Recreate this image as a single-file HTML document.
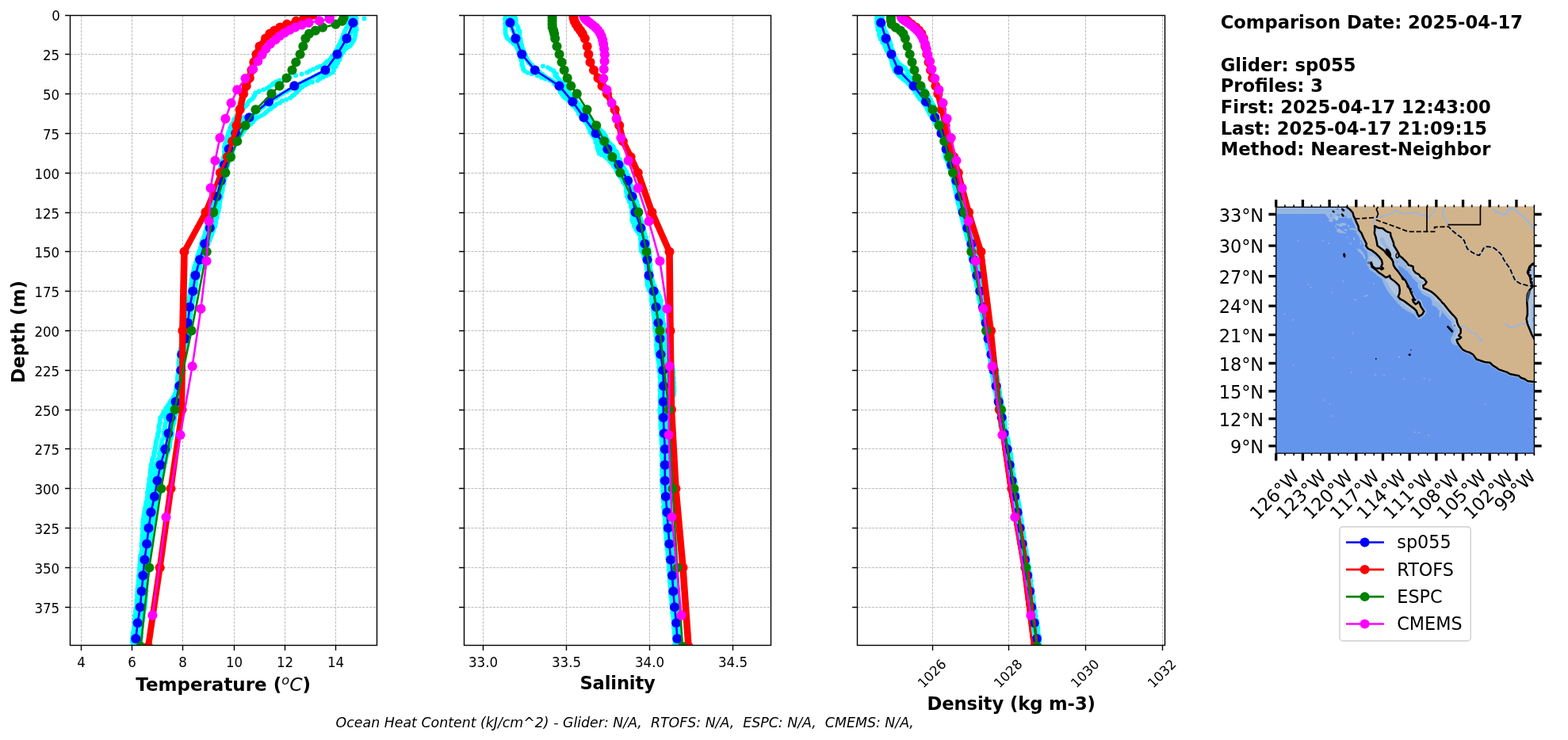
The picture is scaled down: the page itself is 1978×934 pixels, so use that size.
<!DOCTYPE html>
<html lang="en"><head><meta charset="utf-8"><title>Glider / model profile comparison</title>
<style>html,body{margin:0;padding:0;background:#fff;}body{width:1978px;height:934px;overflow:hidden;}svg{display:block;}</style></head>
<body>
<svg width="1978" height="934" viewBox="0 0 1978 934" role="img" aria-label="Glider sp055 versus ocean model profile comparison" font-family="'DejaVu Sans', 'Liberation Sans', sans-serif">
<rect x="0" y="0" width="1978" height="934" fill="#fff"/>
<defs>
<clipPath id="cp1"><rect x="88.5" y="19.5" width="387" height="795"/></clipPath>
<clipPath id="cp2"><rect x="585.5" y="19.5" width="387" height="795"/></clipPath>
<clipPath id="cp3"><rect x="1081.5" y="19.5" width="388" height="795"/></clipPath>
<clipPath id="cpm"><rect x="1609.5" y="260.3" width="326" height="311.7"/></clipPath>
</defs>
<g id="panel1">
<path d="M102.5 814.5V19.5M166.5 814.5V19.5M230.5 814.5V19.5M295.5 814.5V19.5M359.5 814.5V19.5M423.5 814.5V19.5M88.5 68.5H475.5M88.5 118.5H475.5M88.5 168.5H475.5M88.5 218.5H475.5M88.5 268.5H475.5M88.5 317.5H475.5M88.5 367.5H475.5M88.5 417.5H475.5M88.5 467.5H475.5M88.5 517.5H475.5M88.5 566.5H475.5M88.5 616.5H475.5M88.5 666.5H475.5M88.5 716.5H475.5M88.5 766.5H475.5" stroke="#bcbcbc" stroke-width="1" stroke-dasharray="3.15 1.4" fill="none"/>
<g clip-path="url(#cp1)">
<path d="M448.8 21.5h0M449.6 23.5h0M449.3 25.6h0M449.1 27.5h0M449.6 29.7h0M448.9 31.4h0M448.8 33.7h0M449.3 35.2h0M449.6 37.8h0M449.0 39.6h0M448.2 41.2h0M448.4 43.2h0M447.8 45.3h0M447.4 47.5h0M446.9 49.7h0M445.8 51.6h0M444.5 53.6h0M443.3 55.4h0M441.8 57.8h0M439.3 59.6h0M436.4 61.3h0M434.4 63.2h0M433.1 65.4h0M431.3 67.4h0M430.4 69.7h0M428.6 71.3h0M428.9 73.5h0M428.2 75.4h0M426.3 77.6h0M426.1 79.4h0M424.3 81.4h0M424.0 83.7h0M421.7 85.3h0M420.6 87.2h0M420.7 89.3h0M419.8 91.5h0M415.6 93.6h0M411.6 95.6h0M407.5 97.5h0M403.6 99.4h0M400.5 101.7h0M394.0 103.7h0M388.8 105.4h0M385.1 107.6h0M381.4 109.8h0M378.6 111.4h0M377.3 113.4h0M375.2 115.2h0M373.0 117.5h0M371.2 119.6h0M368.6 121.5h0M366.1 123.5h0M361.2 125.7h0M356.1 127.3h0M353.2 129.7h0M349.0 131.3h0M346.5 133.8h0M342.9 135.8h0M341.1 137.6h0M338.4 139.3h0M335.7 141.8h0M333.7 143.6h0M329.9 145.7h0M326.3 147.4h0M323.3 149.6h0M320.8 151.3h0M319.2 153.7h0M317.2 155.4h0M315.6 157.3h0M312.6 159.4h0M311.2 161.2h0M309.0 163.4h0M307.6 165.3h0M305.7 167.7h0M304.9 169.6h0M303.1 171.6h0M301.0 173.2h0M299.7 175.7h0M299.5 177.8h0M297.7 179.6h0M297.2 181.6h0M296.1 183.8h0M294.8 185.5h0M294.5 187.7h0M293.5 189.6h0M293.2 191.7h0M292.3 193.6h0M292.5 195.7h0M291.3 197.7h0M291.1 199.5h0M289.9 201.4h0M288.8 203.6h0M287.1 205.6h0M287.4 207.7h0M286.7 209.4h0M286.3 211.5h0M285.6 213.7h0M284.8 215.7h0M284.4 217.6h0M284.5 219.3h0M284.4 221.5h0M284.0 223.8h0M283.2 225.2h0M282.9 227.6h0M282.3 229.3h0M282.6 231.6h0M281.6 233.7h0M281.0 235.6h0M280.4 237.5h0M280.7 239.7h0M280.3 241.4h0M279.6 243.4h0M278.7 245.5h0M279.1 247.7h0M278.6 249.8h0M277.7 251.3h0M277.5 253.4h0M276.9 255.4h0M277.0 257.5h0M276.3 259.7h0M276.7 261.5h0M275.3 263.2h0M275.8 265.2h0M275.3 267.5h0M274.4 269.7h0M273.6 271.3h0M273.6 273.2h0M273.6 275.3h0M272.3 277.2h0M272.4 279.5h0M271.9 281.6h0M271.7 283.8h0M271.1 285.3h0M270.3 287.3h0M269.1 289.5h0M269.1 291.3h0M267.8 293.4h0M267.4 295.5h0M266.5 297.7h0M265.5 299.7h0M265.3 301.3h0M264.5 303.6h0M262.8 305.5h0M262.5 307.7h0M261.5 309.5h0M261.3 311.7h0M260.6 313.5h0M259.5 315.3h0M258.8 317.7h0M257.9 319.6h0M256.7 321.7h0M256.7 323.8h0M255.5 325.7h0M254.5 327.7h0M254.5 329.4h0M253.1 331.5h0M253.0 333.7h0M252.3 335.2h0M252.1 337.2h0M251.5 339.3h0M250.5 341.7h0M249.7 343.3h0M249.5 345.6h0M249.3 347.6h0M249.1 349.5h0M248.8 351.3h0M247.6 353.5h0M247.4 355.6h0M247.5 357.5h0M247.4 359.5h0M246.4 361.4h0M246.7 363.7h0M245.7 365.7h0M246.2 367.5h0M245.3 369.3h0M244.9 371.5h0M244.5 373.2h0M244.5 375.5h0M243.5 377.7h0M243.2 379.5h0M242.9 381.2h0M242.4 383.4h0M242.4 385.8h0M241.2 387.5h0M240.8 389.5h0M241.3 391.7h0M240.7 393.4h0M240.1 395.6h0M240.7 397.3h0M240.3 399.2h0M239.4 401.3h0M239.7 403.4h0M239.0 405.6h0M238.5 407.6h0M238.2 409.5h0M238.0 411.3h0M238.0 413.5h0M237.6 415.4h0M237.4 417.3h0M236.8 419.6h0M237.0 421.5h0M236.9 423.6h0M236.6 425.3h0M236.2 427.7h0M235.9 429.4h0M234.8 431.8h0M234.3 433.8h0M234.6 435.3h0M233.4 437.6h0M233.0 439.3h0M233.2 441.5h0M232.7 443.3h0M231.8 445.6h0M230.9 447.3h0M231.6 449.7h0M231.8 451.3h0M231.2 453.7h0M231.1 455.6h0M230.7 457.2h0M230.5 459.2h0M230.9 461.5h0M230.9 463.3h0M230.3 465.3h0M231.0 467.8h0M230.9 469.3h0M229.7 471.8h0M230.0 473.7h0M229.6 475.5h0M229.7 477.5h0M229.6 479.2h0M229.5 481.7h0M228.7 483.5h0M229.2 485.4h0M228.3 487.3h0M228.2 489.2h0M228.2 491.7h0M227.5 493.7h0M227.0 495.4h0M226.5 497.5h0M226.7 499.7h0M225.6 501.7h0M225.9 503.7h0M225.7 505.4h0M225.5 507.7h0M224.8 509.7h0M224.5 511.4h0M224.0 513.2h0M223.2 515.5h0M222.4 517.4h0M222.5 519.6h0M221.4 521.8h0M221.3 523.4h0M220.6 525.5h0M220.0 527.4h0M220.2 529.6h0M219.5 531.7h0M219.5 533.2h0M218.8 535.6h0M218.1 537.4h0M217.6 539.3h0M217.6 541.3h0M217.2 543.7h0M217.2 545.5h0M217.3 547.5h0M216.9 549.6h0M216.3 551.2h0M215.7 553.7h0M214.6 555.8h0M214.4 557.5h0M214.0 559.5h0M214.0 561.2h0M214.0 563.5h0M213.1 565.6h0M212.5 567.4h0M212.2 569.5h0M211.2 571.6h0M210.7 573.2h0M210.0 575.2h0M209.3 577.7h0M209.0 579.7h0M208.8 581.2h0M208.5 583.8h0M206.9 585.7h0M206.8 587.5h0M207.0 589.3h0M206.1 591.8h0M205.9 593.5h0M205.8 595.7h0M205.0 597.3h0M204.6 599.5h0M203.7 601.2h0M203.7 603.3h0M203.2 605.6h0M202.8 607.4h0M202.6 609.5h0M202.5 611.5h0M202.3 613.8h0M201.7 615.3h0M200.6 617.7h0M201.0 619.6h0M200.2 621.4h0M200.2 623.5h0M199.7 625.6h0M199.5 627.3h0M198.5 629.8h0M198.8 631.7h0M197.4 633.2h0M197.2 635.5h0M197.1 637.3h0M196.6 639.2h0M195.6 641.6h0M195.7 643.6h0M195.0 645.5h0M194.5 647.4h0M194.8 649.7h0M193.7 651.3h0M194.2 653.6h0M193.9 655.3h0M193.2 657.4h0M193.4 659.4h0M192.9 661.8h0M192.3 663.5h0M192.4 665.8h0M191.8 667.4h0M191.2 669.7h0M191.0 671.2h0M191.3 673.5h0M191.2 675.4h0M191.1 677.2h0M190.2 679.6h0M189.9 681.4h0M190.4 683.6h0M189.7 685.3h0M189.5 687.6h0M189.3 689.3h0M189.4 691.5h0M189.4 693.8h0M189.1 695.5h0M188.8 697.4h0M188.0 699.4h0M188.4 701.7h0M187.4 703.4h0M187.2 705.4h0M187.1 707.4h0M186.7 709.5h0M187.2 711.5h0M187.0 713.5h0M186.1 715.7h0M186.7 717.4h0M185.6 719.5h0M186.0 721.5h0M186.3 723.6h0M185.9 725.2h0M185.5 727.7h0M184.8 729.2h0M185.4 731.7h0M184.5 733.6h0M184.4 735.6h0M184.8 737.3h0M184.2 739.7h0M184.4 741.7h0M184.1 743.4h0M184.6 745.6h0M183.9 747.5h0M184.0 749.6h0M184.0 751.4h0M183.7 753.6h0M183.6 755.7h0M183.4 757.7h0M183.4 759.6h0M182.7 761.6h0M182.9 763.5h0M182.3 765.3h0M182.4 767.8h0M181.7 769.3h0M181.2 771.5h0M181.0 773.8h0M180.5 775.4h0M180.2 777.6h0M180.7 779.3h0M179.6 781.5h0M179.9 783.7h0M179.0 785.3h0M178.9 787.3h0M178.7 789.6h0M178.9 791.3h0M178.2 793.4h0M178.0 795.7h0M177.9 797.5h0M178.3 799.5h0M177.4 801.7h0M177.9 803.4h0M177.3 805.8h0M177.2 807.3h0M176.7 809.8h0M177.6 811.4h0M177.3 813.5h0M177.0 815.8h0M177.5 817.3h0M439.5 21.5h0M439.9 23.7h0M440.2 25.6h0M439.6 27.3h0M439.2 29.4h0M439.0 31.5h0M438.0 33.8h0M436.7 35.5h0M435.8 37.7h0M434.8 39.7h0M434.8 41.7h0M433.1 43.4h0M432.9 45.3h0M431.7 47.5h0M431.3 49.6h0M430.3 51.4h0M429.3 53.5h0M428.6 55.3h0M427.6 57.3h0M426.4 59.5h0M425.0 61.7h0M424.3 63.4h0M423.1 65.4h0M422.6 67.6h0M420.9 69.6h0M418.7 71.4h0M417.3 73.8h0M415.8 75.6h0M412.7 77.4h0M411.1 79.3h0M408.7 81.5h0M403.8 83.8h0M399.8 85.3h0M395.1 87.4h0M390.8 89.5h0M387.3 91.4h0M380.6 93.6h0M373.0 95.3h0M365.9 97.4h0M358.9 99.5h0M352.5 101.4h0M348.5 103.3h0M344.8 105.3h0M342.8 107.6h0M339.7 109.4h0M336.9 111.6h0M332.2 113.3h0M326.8 115.3h0M322.3 117.2h0M321.9 119.5h0M320.5 121.6h0M319.4 123.7h0M317.3 125.4h0M314.8 127.2h0M312.7 129.6h0M312.0 131.7h0M310.4 133.6h0M308.1 135.4h0M306.4 137.6h0M304.1 139.4h0M302.8 141.7h0M301.6 143.6h0M299.2 145.7h0M298.4 147.5h0M296.2 149.5h0M294.9 151.6h0M294.8 153.5h0M293.5 155.7h0M291.9 157.8h0M291.6 159.3h0M290.2 161.3h0M290.0 163.6h0M289.0 165.8h0M288.4 167.5h0M287.5 169.8h0M286.9 171.7h0M286.8 173.5h0M286.2 175.4h0M286.0 177.8h0M285.3 179.6h0M283.9 181.7h0M283.5 183.7h0M282.9 185.5h0M283.6 187.3h0M283.4 189.2h0M282.8 191.3h0M283.6 193.8h0M282.9 195.4h0M282.5 197.6h0M281.5 199.6h0M281.2 201.2h0M279.8 203.5h0M279.2 205.4h0M279.1 207.3h0M278.5 209.4h0M278.2 211.4h0M277.8 213.2h0M277.5 215.3h0M277.4 217.6h0M276.4 219.4h0M276.2 221.6h0M275.9 223.7h0M275.2 225.8h0M275.2 227.7h0M274.2 229.5h0M273.9 231.7h0M273.3 233.5h0M272.7 235.7h0M272.1 237.2h0M272.0 239.7h0M271.5 241.6h0M271.0 243.4h0M270.3 245.2h0M269.3 247.5h0M269.2 249.4h0M268.3 251.6h0M268.3 253.3h0M267.6 255.4h0M267.1 257.2h0M267.4 259.8h0M266.7 261.7h0M265.9 263.7h0M265.2 265.6h0M265.2 267.7h0M264.2 269.7h0M263.8 271.5h0M264.3 273.2h0M263.1 275.4h0M262.8 277.2h0M263.0 279.7h0M262.0 281.4h0M261.8 283.2h0M260.8 285.7h0M260.7 287.5h0M260.7 289.8h0M259.6 291.3h0M258.7 293.8h0M258.7 295.3h0M258.0 297.4h0M257.0 299.3h0M256.8 301.8h0M255.4 303.6h0M254.7 305.7h0M253.9 307.3h0M254.0 309.4h0M253.6 311.7h0M252.7 313.3h0M252.1 315.8h0M251.2 317.2h0M250.4 319.4h0M250.3 321.3h0M249.1 323.3h0M249.0 325.7h0M248.1 327.6h0M248.1 329.6h0M246.9 331.4h0M247.1 333.6h0M245.8 335.6h0M245.1 337.8h0M244.9 339.5h0M244.5 341.2h0M244.0 343.4h0M243.1 345.7h0M242.4 347.4h0M242.8 349.3h0M242.0 351.5h0M241.6 353.7h0M242.2 355.2h0M241.3 357.7h0M240.9 359.8h0M240.8 361.3h0M240.6 363.6h0M240.0 365.6h0M240.2 367.5h0M239.5 369.7h0M239.3 371.5h0M239.2 373.3h0M238.7 375.3h0M238.1 377.3h0M237.5 379.7h0M237.5 381.7h0M236.5 383.5h0M236.1 385.5h0M236.0 387.2h0M235.9 389.6h0M235.6 391.7h0M235.0 393.3h0M234.6 395.5h0M234.8 397.5h0M234.4 399.7h0M234.0 401.7h0M234.3 403.5h0M234.3 405.3h0M233.4 407.4h0M233.0 409.4h0M233.4 411.5h0M232.7 413.6h0M232.2 415.7h0M232.0 417.4h0M231.7 419.6h0M232.1 421.7h0M231.0 423.4h0M231.0 425.3h0M231.4 427.2h0M230.4 429.7h0M230.5 431.3h0M229.4 433.6h0M228.5 435.3h0M229.0 437.3h0M228.0 439.4h0M227.6 441.2h0M226.7 443.8h0M227.0 445.6h0M226.0 447.4h0M226.2 449.3h0M226.0 451.8h0M225.8 453.4h0M226.4 455.6h0M225.3 457.4h0M225.9 459.2h0M225.4 461.6h0M225.9 463.6h0M225.8 465.5h0M225.2 467.7h0M224.9 469.7h0M224.6 471.4h0M224.3 473.5h0M224.1 475.3h0M224.0 477.5h0M223.9 479.5h0M224.4 481.6h0M224.1 483.3h0M223.3 485.2h0M223.4 487.4h0M222.5 489.2h0M221.9 491.4h0M221.7 493.8h0M221.6 495.4h0M220.6 497.3h0M220.0 499.4h0M218.7 501.6h0M217.6 503.2h0M215.8 505.4h0M214.3 507.7h0M213.2 509.7h0M212.2 511.2h0M210.8 513.3h0M209.2 515.3h0M208.6 517.2h0M207.1 519.5h0M206.1 521.3h0M205.1 523.4h0M203.9 525.6h0M202.2 527.3h0M202.1 529.6h0M201.9 531.4h0M202.1 533.3h0M201.1 535.4h0M200.7 537.2h0M200.2 539.6h0M200.4 541.7h0M200.6 543.4h0M199.9 545.8h0M199.0 547.6h0M199.1 549.8h0M198.9 551.3h0M198.2 553.3h0M197.6 555.4h0M196.8 557.4h0M196.8 559.5h0M196.4 561.3h0M196.2 563.5h0M195.7 565.6h0M195.4 567.3h0M195.0 569.5h0M194.3 571.5h0M194.4 573.5h0M194.0 575.2h0M193.1 577.4h0M192.3 579.4h0M191.8 581.5h0M191.9 583.5h0M191.1 585.4h0M190.4 587.4h0M191.1 589.5h0M190.1 591.6h0M189.8 593.5h0M190.0 595.8h0M189.4 597.5h0M189.8 599.7h0M189.2 601.6h0M188.7 603.4h0M188.3 605.7h0M188.7 607.4h0M188.5 609.2h0M187.4 611.5h0M187.4 613.4h0M187.9 615.3h0M186.8 617.3h0M187.0 619.3h0M186.0 621.5h0M186.1 623.3h0M186.0 625.6h0M185.7 627.6h0M185.4 629.7h0M185.4 631.4h0M184.4 633.7h0M184.0 635.6h0M184.0 637.6h0M183.9 639.7h0M182.7 641.6h0M182.7 643.5h0M182.2 645.4h0M182.3 647.5h0M181.5 649.3h0M181.4 651.3h0M181.4 653.3h0M180.7 655.2h0M180.5 657.6h0M180.3 659.5h0M180.8 661.5h0M180.0 663.7h0M180.5 665.2h0M179.7 667.5h0M180.2 669.4h0M180.0 671.4h0M179.9 673.4h0M179.4 675.7h0M179.8 677.7h0M179.4 679.5h0M179.5 681.6h0M179.5 683.7h0M178.7 685.4h0M179.1 687.3h0M178.5 689.2h0M178.8 691.8h0M179.0 693.3h0M178.6 695.5h0M178.3 697.4h0M178.4 699.8h0M177.2 701.6h0M177.0 703.2h0M176.9 705.6h0M177.5 707.3h0M176.6 709.2h0M176.6 711.5h0M176.3 713.4h0M176.6 715.7h0M175.8 717.4h0M176.0 719.7h0M176.2 721.4h0M175.7 723.5h0M175.7 725.3h0M174.8 727.3h0M175.5 729.4h0M174.9 731.3h0M174.6 733.2h0M174.7 735.3h0M174.6 737.4h0M174.0 739.5h0M174.0 741.4h0M173.5 743.2h0M174.3 745.4h0M173.3 747.3h0M173.5 749.8h0M173.1 751.7h0M173.2 753.4h0M173.4 755.4h0M172.4 757.5h0M172.9 759.6h0M172.3 761.8h0M172.8 763.8h0M172.2 765.7h0M172.2 767.3h0M171.2 769.3h0M171.0 771.2h0M171.0 773.7h0M170.6 775.5h0M170.0 777.3h0M170.8 779.2h0M170.0 781.7h0M170.0 783.6h0M169.3 785.7h0M169.5 787.7h0M169.5 789.3h0M169.2 791.4h0M168.8 793.4h0M168.8 795.2h0M168.2 797.3h0M167.8 799.4h0M167.8 801.7h0M167.3 803.6h0M167.1 805.4h0M167.6 807.4h0M166.8 809.4h0M167.5 811.3h0M167.5 813.5h0M167.5 815.3h0M166.9 817.3h0M444.8 21.5h0M444.8 23.5h0M445.5 25.4h0M446.0 27.8h0M445.7 29.7h0M445.7 31.7h0M445.2 33.8h0M445.1 35.8h0M444.1 37.4h0M443.8 39.3h0M442.2 41.6h0M441.7 43.4h0M440.0 45.4h0M440.1 47.3h0M438.7 49.4h0M437.5 51.3h0M436.3 53.7h0M435.4 55.6h0M433.8 57.5h0M432.2 59.7h0M431.7 61.5h0M430.5 63.5h0M429.0 65.3h0M428.0 67.5h0M426.6 69.2h0M425.2 71.5h0M423.7 73.6h0M422.6 75.3h0M420.6 77.8h0M419.4 79.4h0M417.9 81.8h0M416.0 83.7h0M414.1 85.8h0M413.0 87.3h0M410.6 89.6h0M406.7 91.7h0M402.6 93.5h0M398.9 95.2h0M394.8 97.6h0M390.1 99.7h0M386.4 101.5h0M382.9 103.3h0M378.3 105.6h0M374.1 107.5h0M371.3 109.5h0M367.5 111.7h0M364.9 113.7h0M361.2 115.7h0M358.2 117.3h0M354.5 119.3h0M350.9 121.4h0M348.5 123.7h0M344.4 125.3h0M341.4 127.7h0M338.8 129.7h0M335.7 131.8h0M333.4 133.6h0M331.6 135.6h0M328.4 137.6h0M326.2 139.2h0M323.6 141.4h0M321.4 143.4h0M318.9 145.6h0M316.0 147.3h0M314.6 149.5h0M312.2 151.3h0M311.4 153.6h0M309.0 155.3h0M308.0 157.6h0M306.0 159.4h0M303.8 161.4h0M302.0 163.6h0M300.5 165.7h0M298.8 167.5h0M297.8 169.8h0M296.7 171.6h0M295.8 173.5h0M295.0 175.7h0M294.1 177.7h0M293.7 179.5h0M293.1 181.4h0M292.0 183.6h0M290.9 185.2h0M290.0 187.4h0M289.3 189.8h0M288.6 191.6h0M288.4 193.3h0M287.5 195.3h0M287.4 197.4h0M286.3 199.4h0M286.1 201.7h0M285.3 203.5h0M284.1 205.7h0M283.5 207.4h0M283.4 209.6h0M283.3 211.4h0M283.1 213.8h0M281.8 215.6h0M281.8 217.4h0M281.4 219.4h0M281.2 221.6h0M281.2 223.8h0M280.8 225.4h0M280.2 227.6h0M279.6 229.8h0M278.3 231.5h0M278.2 233.6h0M277.5 235.8h0M277.0 237.4h0M276.4 239.4h0M276.5 241.3h0M275.4 243.6h0M275.4 245.6h0M274.5 247.7h0M274.5 249.7h0M273.4 251.5h0M272.8 253.7h0M273.4 255.7h0M271.9 257.4h0M272.0 259.5h0M271.1 261.7h0M270.8 263.5h0M270.2 265.5h0M269.7 267.3h0M269.7 269.4h0M269.6 271.3h0M268.8 273.2h0M268.1 275.5h0M268.1 277.5h0M268.0 279.3h0M267.6 281.3h0M267.3 283.5h0M266.2 285.6h0M266.3 287.8h0M265.2 289.2h0M264.3 291.7h0M264.3 293.6h0M263.0 295.5h0M262.2 297.3h0M261.8 299.8h0M261.6 301.7h0M260.3 303.4h0M259.6 305.4h0M259.0 307.8h0M258.6 309.5h0M258.4 311.7h0M258.1 313.5h0M257.0 315.7h0M256.2 317.4h0M256.0 319.4h0M255.0 321.5h0M254.5 323.4h0M253.8 325.5h0M252.8 327.7h0M252.2 329.5h0M252.2 331.4h0M251.3 333.3h0M250.9 335.4h0M250.4 337.3h0M250.2 339.5h0M248.8 341.4h0M249.3 343.2h0M248.3 345.8h0M247.5 347.6h0M247.2 349.4h0M247.1 351.6h0M246.5 353.5h0M246.4 355.7h0M245.6 357.3h0M245.5 359.4h0M245.8 361.5h0M245.5 363.4h0M244.6 365.6h0M244.1 367.8h0M244.5 369.4h0M243.5 371.7h0M243.6 373.6h0M242.4 375.7h0M242.0 377.6h0M242.1 379.8h0M241.8 381.2h0M241.7 383.7h0M240.9 385.2h0M240.7 387.5h0M240.4 389.8h0M240.4 391.2h0M240.0 393.5h0M239.8 395.4h0M239.2 397.5h0M238.6 399.4h0M239.0 401.2h0M238.1 403.7h0M238.5 405.5h0M237.6 407.3h0M237.5 409.8h0M237.5 411.8h0M236.8 413.4h0M236.9 415.7h0M236.1 417.7h0M236.2 419.2h0M235.9 421.4h0M235.8 423.8h0M235.3 425.6h0M234.9 427.7h0M234.2 429.6h0M233.8 431.6h0M233.3 433.4h0M232.8 435.4h0M232.8 437.5h0M232.2 439.5h0M232.2 441.4h0M231.5 443.5h0M231.4 445.4h0M230.7 447.3h0M230.1 449.6h0M230.4 451.4h0M229.7 453.7h0M230.0 455.6h0M229.9 457.6h0M230.0 459.8h0M230.2 461.5h0M229.7 463.3h0M229.9 465.3h0M229.3 467.7h0M228.8 469.6h0M229.2 471.5h0M228.7 473.3h0M229.2 475.7h0M228.8 477.3h0M228.6 479.3h0M227.8 481.5h0M228.0 483.3h0M228.0 485.5h0M227.9 487.8h0M227.2 489.4h0M227.0 491.6h0M225.8 493.7h0M225.8 495.4h0M224.8 497.2h0M224.7 499.4h0M223.9 501.4h0M223.3 503.5h0M223.0 505.4h0M222.5 507.5h0M222.5 509.3h0M221.9 511.7h0M221.0 513.5h0M220.5 515.5h0M219.8 517.8h0M219.4 519.4h0M218.0 521.8h0M217.7 523.7h0M216.9 525.5h0M216.5 527.6h0M216.9 529.5h0M216.1 531.4h0M215.5 533.8h0M215.0 535.8h0M215.3 537.2h0M215.3 539.3h0M214.6 541.3h0M214.8 543.4h0M214.3 545.2h0M213.8 547.2h0M212.6 549.5h0M213.3 551.6h0M212.7 553.7h0M212.0 555.2h0M211.5 557.3h0M211.1 559.4h0M210.7 561.3h0M210.5 563.5h0M209.9 565.2h0M209.4 567.5h0M209.4 569.5h0M207.9 571.4h0M207.5 573.6h0M207.6 575.8h0M207.0 577.8h0M206.3 579.8h0M204.8 581.5h0M204.9 583.6h0M204.3 585.6h0M204.2 587.3h0M203.3 589.8h0M202.4 591.3h0M202.9 593.8h0M201.6 595.2h0M202.0 597.6h0M201.3 599.5h0M201.2 601.7h0M199.9 603.2h0M200.4 605.8h0M200.1 607.4h0M199.2 609.4h0M198.4 611.7h0M198.4 613.6h0M198.3 615.4h0M198.1 617.5h0M197.2 619.7h0M196.8 621.3h0M196.5 623.5h0M196.8 625.4h0M195.8 627.6h0M195.4 629.5h0M194.9 631.7h0M194.4 633.3h0M194.0 635.4h0M194.1 637.6h0M193.7 639.5h0M192.5 641.7h0M192.2 643.3h0M191.9 645.8h0M191.5 647.4h0M191.8 649.8h0M190.9 651.3h0M191.1 653.7h0M190.3 655.7h0M190.1 657.4h0M190.0 659.6h0M189.6 661.7h0M188.8 663.5h0M188.9 665.2h0M189.2 667.3h0M188.2 669.7h0M188.8 671.8h0M187.9 673.8h0M187.5 675.6h0M188.1 677.3h0M187.0 679.6h0M187.6 681.6h0M187.4 683.5h0M186.6 685.3h0M186.2 687.8h0M185.7 689.3h0M185.7 691.2h0M185.4 693.3h0M184.9 695.5h0M185.1 697.5h0M185.1 699.5h0M185.0 701.2h0M183.9 703.2h0M183.7 705.7h0M184.2 707.5h0M183.1 709.4h0M183.4 711.4h0M183.4 713.8h0M182.9 715.6h0M183.1 717.5h0M182.2 719.8h0M182.8 721.2h0M182.4 723.4h0M181.4 725.3h0M181.4 727.6h0M181.2 729.2h0M181.1 731.7h0M181.2 733.6h0M181.0 735.3h0M180.4 737.4h0M180.2 739.4h0M180.7 741.4h0M180.4 743.6h0M180.0 745.4h0M180.5 747.5h0M179.8 749.5h0M179.6 751.4h0M179.9 753.3h0M179.8 755.7h0M179.5 757.3h0M178.9 759.8h0M178.5 761.3h0M178.8 763.3h0M178.4 765.3h0M178.6 767.4h0M177.3 769.6h0M177.3 771.5h0M177.1 773.8h0M176.8 775.4h0M176.0 777.5h0M176.0 779.5h0M176.0 781.5h0M175.1 783.5h0M175.3 785.6h0M175.5 787.4h0M174.7 789.3h0M174.9 791.3h0M174.7 793.7h0M173.8 795.7h0M173.8 797.5h0M173.6 799.8h0M173.3 801.5h0M172.9 803.7h0M172.9 805.4h0M172.5 807.3h0M173.2 809.7h0M173.3 811.8h0M173.0 813.7h0M173.0 815.7h0M173.1 817.3h0M321.7 148.3h0M318.6 150.5h0M316.1 152.3h0M316.0 154.6h0M312.4 156.3h0M311.8 158.6h0M309.1 160.4h0M308.0 162.4h0M305.7 164.6h0M304.7 166.7h0M303.0 168.5h0M301.6 170.8h0M299.2 172.6h0M298.6 174.5h0M296.2 178.7h0M275.2 258.4h0M274.5 262.7h0M272.7 266.5h0M272.0 268.3h0M271.2 276.5h0M175.8 804.7h0M308.0 148.3h0M305.6 150.5h0M302.9 152.3h0M303.5 154.6h0M300.6 156.3h0M300.6 158.6h0M299.2 160.4h0M297.5 162.4h0M296.6 164.6h0M294.9 166.7h0M294.3 168.5h0M292.9 170.8h0M291.8 172.6h0M291.1 174.5h0M290.4 176.7h0M289.3 178.7h0M288.9 180.5h0M289.0 182.4h0M287.3 184.6h0M287.1 186.2h0M287.2 188.4h0M286.7 190.8h0M285.7 192.6h0M282.3 204.5h0M280.4 212.4h0M280.0 214.8h0M278.9 222.6h0M278.8 224.8h0M278.7 226.4h0M276.6 230.8h0M274.7 242.3h0M273.5 246.6h0M271.6 248.7h0M272.6 250.7h0M271.0 252.5h0M271.3 256.7h0M267.4 270.4h0M266.4 272.3h0M265.3 276.5h0M265.5 278.5h0M265.5 280.3h0M264.1 282.3h0M265.1 284.5h0M263.6 286.6h0M263.4 288.8h0M261.9 294.6h0M256.1 308.8h0M254.9 314.5h0M253.9 318.4h0M252.8 320.4h0M251.5 324.4h0M248.8 332.4h0M247.6 336.4h0M247.5 338.3h0M247.6 340.5h0M247.4 344.2h0M245.9 346.8h0M244.8 348.6h0M244.4 352.6h0M242.9 362.5h0M239.1 384.7h0M238.2 394.5h0M236.6 396.4h0M236.4 402.2h0M226.9 476.7h0M224.9 492.6h0M221.4 502.4h0M220.7 504.5h0M220.1 506.4h0M219.0 508.5h0M217.5 510.3h0M217.1 512.7h0M216.7 514.5h0M214.9 516.5h0M213.7 518.8h0M213.6 520.4h0M211.3 522.8h0M210.8 524.7h0M210.5 526.5h0M209.0 528.6h0M209.8 530.5h0M209.4 532.4h0M208.5 534.8h0M208.5 536.8h0M208.2 538.2h0M208.0 540.3h0M207.4 542.3h0M207.5 544.4h0M206.5 546.2h0M206.4 548.2h0M206.6 550.5h0M206.7 552.6h0M204.8 554.7h0M204.1 556.2h0M203.8 558.3h0M204.3 560.4h0M203.4 562.3h0M202.8 564.5h0M202.6 566.2h0M202.5 568.5h0M202.6 570.5h0M200.9 572.4h0M201.2 574.6h0M201.1 576.8h0M200.3 578.8h0M198.6 580.8h0M198.7 582.5h0M197.8 584.6h0M197.0 586.6h0M197.2 588.3h0M196.4 590.8h0M195.6 592.3h0M196.2 594.8h0M195.7 596.2h0M195.1 598.6h0M196.3 600.5h0M195.7 602.7h0M194.3 604.2h0M194.5 606.8h0M194.1 608.4h0M194.6 610.4h0M192.3 612.7h0M192.5 614.6h0M192.6 616.4h0M193.0 618.5h0M192.1 620.7h0M191.3 622.3h0M191.2 624.5h0M192.0 626.4h0M190.4 628.6h0M190.8 630.5h0M190.5 632.7h0M189.3 634.3h0M188.8 636.4h0M188.9 638.6h0M188.7 640.5h0M187.3 642.7h0M187.6 644.3h0M186.9 646.8h0M186.6 648.4h0M187.1 650.8h0M186.1 652.3h0M186.2 654.7h0M186.1 656.7h0M185.2 658.4h0M185.0 660.6h0M185.8 662.7h0M185.1 664.5h0M185.2 666.2h0M184.3 668.3h0M184.5 670.7h0M184.8 672.8h0M183.6 674.8h0M183.8 676.6h0M184.7 678.3h0M183.5 680.6h0M183.8 682.6h0M183.4 684.5h0M182.9 686.3h0M182.2 688.8h0M182.5 690.3h0M182.3 692.2h0M183.0 694.3h0M181.5 696.5h0M182.0 698.5h0M181.0 700.5h0M180.9 702.2h0M180.9 704.2h0M179.9 706.7h0M181.0 708.5h0M179.4 710.4h0M179.8 712.4h0M180.6 714.8h0M179.2 716.6h0M180.1 718.5h0M178.4 720.8h0M179.7 722.2h0M179.6 724.4h0M179.1 726.3h0M177.9 728.6h0M178.5 730.2h0M178.3 732.7h0M178.3 734.6h0M178.2 736.3h0M177.6 738.4h0M176.7 740.4h0M177.7 742.4h0M177.0 744.6h0M177.2 746.4h0M177.6 748.5h0M176.1 750.5h0M176.8 752.4h0M176.3 754.3h0M176.9 756.7h0M176.7 758.3h0M175.5 760.8h0M175.5 762.3h0M175.8 764.3h0M175.3 766.3h0M174.9 768.4h0M174.5 770.6h0M174.8 772.5h0M174.3 774.8h0M173.4 776.4h0M173.5 778.5h0M173.2 780.5h0M172.5 782.5h0M172.8 784.5h0M172.2 786.6h0M172.6 788.4h0M172.9 790.3h0M172.2 792.3h0M172.4 794.7h0M171.0 796.7h0M171.4 798.5h0M170.0 800.8h0M170.3 802.5h0M170.4 804.7h0M170.3 806.4h0M170.5 810.7h0M170.2 812.8h0M169.9 814.7h0M170.0 816.7h0M170.1 818.3h0M459.5 23.4h0" fill="none" stroke="#00ffff" stroke-width="6" stroke-linecap="round"/>
<polyline points="445.3,28.67 437.4,48.6 425.4,68.54 410.4,88.47 371.3,108.41 339,128.34 314.4,148.28 297.3,168.21 288.8,188.15 282.8,208.08 278.7,228.02 273.6,247.95 269,267.89 264.8,287.82 258.3,307.76 252.1,327.69 246.5,347.63 243.4,367.56 239.3,387.5 236.9,407.43 233.9,427.37 229.3,447.3 228.3,467.24 226.3,487.17 221.6,507.11 215.5,527.04 212.4,546.98 208.3,566.91 202.5,586.85 198.5,606.78 194.9,626.72 190.4,646.65 187.5,666.59 185.2,686.52 182.4,706.46 180.4,726.39 178.7,746.33 176.8,766.26 173.7,786.2 171.3,806.13" fill="none" stroke="#0000ff" stroke-width="2.6" stroke-linejoin="round" stroke-linecap="butt"/><g fill="#0000ff"><circle cx="445.3" cy="28.67" r="6.05"/><circle cx="437.4" cy="48.6" r="6.05"/><circle cx="425.4" cy="68.54" r="6.05"/><circle cx="410.4" cy="88.47" r="6.05"/><circle cx="371.3" cy="108.41" r="6.05"/><circle cx="339" cy="128.34" r="6.05"/><circle cx="314.4" cy="148.28" r="6.05"/><circle cx="297.3" cy="168.21" r="6.05"/><circle cx="288.8" cy="188.15" r="6.05"/><circle cx="282.8" cy="208.08" r="6.05"/><circle cx="278.7" cy="228.02" r="6.05"/><circle cx="273.6" cy="247.95" r="6.05"/><circle cx="269" cy="267.89" r="6.05"/><circle cx="264.8" cy="287.82" r="6.05"/><circle cx="258.3" cy="307.76" r="6.05"/><circle cx="252.1" cy="327.69" r="6.05"/><circle cx="246.5" cy="347.63" r="6.05"/><circle cx="243.4" cy="367.56" r="6.05"/><circle cx="239.3" cy="387.5" r="6.05"/><circle cx="236.9" cy="407.43" r="6.05"/><circle cx="233.9" cy="427.37" r="6.05"/><circle cx="229.3" cy="447.3" r="6.05"/><circle cx="228.3" cy="467.24" r="6.05"/><circle cx="226.3" cy="487.17" r="6.05"/><circle cx="221.6" cy="507.11" r="6.05"/><circle cx="215.5" cy="527.04" r="6.05"/><circle cx="212.4" cy="546.98" r="6.05"/><circle cx="208.3" cy="566.91" r="6.05"/><circle cx="202.5" cy="586.85" r="6.05"/><circle cx="198.5" cy="606.78" r="6.05"/><circle cx="194.9" cy="626.72" r="6.05"/><circle cx="190.4" cy="646.65" r="6.05"/><circle cx="187.5" cy="666.59" r="6.05"/><circle cx="185.2" cy="686.52" r="6.05"/><circle cx="182.4" cy="706.46" r="6.05"/><circle cx="180.4" cy="726.39" r="6.05"/><circle cx="178.7" cy="746.33" r="6.05"/><circle cx="176.8" cy="766.26" r="6.05"/><circle cx="173.7" cy="786.2" r="6.05"/><circle cx="171.3" cy="806.13" r="6.05"/></g>
<polyline points="391.7,18.7 380.5,22.69 370.5,26.67 358.9,30.66 350.3,34.65 343.3,38.64 337.4,42.62 332,48.6 324.5,58.57 320.5,68.54 317.4,78.5 314.5,88.47 311.8,98.44 307.7,108.41 304,118.38 299.6,138.31 295.5,158.25 292,178.18 286.5,198.11 277.3,218.05 256.8,267.89 229.5,317.73 227.4,417.4 227.4,517.08 212.8,616.75 199,716.43 184.3,816.1" fill="none" stroke="#ff0000" stroke-width="2.6" stroke-linejoin="round" stroke-linecap="butt"/><polyline points="393.71,18.7 382.51,22.69 372.51,26.67 360.91,30.66 352.31,34.65 345.31,38.64 339.41,42.62 334.01,48.6 326.51,58.57 322.51,68.54 319.41,78.5 316.51,88.47 313.81,98.44 309.71,108.41 306.01,118.38 301.61,138.31 297.51,158.25 292.8,178.18 286.7,198.11 277.7,218.05 258.61,267.89 231.51,317.73 229.41,417.4 228.87,517.08 214.61,616.75 200.81,716.43 186.11,816.1" fill="none" stroke="#ff0000" stroke-width="2.6" stroke-linejoin="round" stroke-linecap="butt"/><polyline points="395.69,18.7 384.49,22.69 374.49,26.67 362.89,30.66 354.29,34.65 347.29,38.64 341.39,42.62 335.99,48.6 328.49,58.57 324.49,68.54 321.39,78.5 318.49,88.47 315.79,98.44 311.69,108.41 307.99,118.38 303.59,138.31 299.49,158.25 293.6,178.18 286.9,198.11 278.1,218.05 260.39,267.89 233.49,317.73 231.39,417.4 230.33,517.08 216.39,616.75 202.59,716.43 187.89,816.1" fill="none" stroke="#ff0000" stroke-width="2.6" stroke-linejoin="round" stroke-linecap="butt"/><polyline points="397.7,18.7 386.5,22.69 376.5,26.67 364.9,30.66 356.3,34.65 349.3,38.64 343.4,42.62 338,48.6 330.5,58.57 326.5,68.54 323.4,78.5 320.5,88.47 317.8,98.44 313.7,108.41 310,118.38 305.6,138.31 301.5,158.25 294.4,178.18 287.1,198.11 278.5,218.05 262.2,267.89 235.5,317.73 233.4,417.4 231.8,517.08 218.2,616.75 204.4,716.43 189.7,816.1" fill="none" stroke="#ff0000" stroke-width="2.6" stroke-linejoin="round" stroke-linecap="butt"/><g fill="#ff0000"><circle cx="394.7" cy="18.7" r="6.05"/><circle cx="383.5" cy="22.69" r="6.05"/><circle cx="373.5" cy="26.67" r="6.05"/><circle cx="361.9" cy="30.66" r="6.05"/><circle cx="353.3" cy="34.65" r="6.05"/><circle cx="346.3" cy="38.64" r="6.05"/><circle cx="340.4" cy="42.62" r="6.05"/><circle cx="335" cy="48.6" r="6.05"/><circle cx="327.5" cy="58.57" r="6.05"/><circle cx="323.5" cy="68.54" r="6.05"/><circle cx="320.4" cy="78.5" r="6.05"/><circle cx="317.5" cy="88.47" r="6.05"/><circle cx="314.8" cy="98.44" r="6.05"/><circle cx="310.7" cy="108.41" r="6.05"/><circle cx="307" cy="118.38" r="6.05"/><circle cx="302.6" cy="138.31" r="6.05"/><circle cx="298.5" cy="158.25" r="6.05"/><circle cx="293.2" cy="178.18" r="6.05"/><circle cx="286.8" cy="198.11" r="6.05"/><circle cx="277.9" cy="218.05" r="6.05"/><circle cx="259.5" cy="267.89" r="6.05"/><circle cx="232.5" cy="317.73" r="6.05"/><circle cx="230.4" cy="417.4" r="6.05"/><circle cx="229.6" cy="517.08" r="6.05"/><circle cx="215.5" cy="616.75" r="6.05"/><circle cx="201.7" cy="716.43" r="6.05"/><circle cx="187" cy="816.1" r="6.05"/></g>
<polyline points="434,18.7 433.5,22.69 431.4,26.67 423.5,30.66 407,34.65 397.9,38.64 390,42.62 385.4,48.6 382.4,58.57 378.6,68.54 373.3,78.5 368.5,88.47 361.5,98.44 352.5,108.41 342.5,118.38 322.5,138.31 309.5,158.25 299.3,178.18 291.1,198.11 284.4,218.05 269.3,267.89 260.7,317.73 241.6,417.4 220.5,517.08 203.4,616.75 188.3,716.43 177.4,816.1" fill="none" stroke="#008000" stroke-width="2.6" stroke-linejoin="round" stroke-linecap="butt"/><g fill="#008000"><circle cx="434" cy="18.7" r="6.05"/><circle cx="433.5" cy="22.69" r="6.05"/><circle cx="431.4" cy="26.67" r="6.05"/><circle cx="423.5" cy="30.66" r="6.05"/><circle cx="407" cy="34.65" r="6.05"/><circle cx="397.9" cy="38.64" r="6.05"/><circle cx="390" cy="42.62" r="6.05"/><circle cx="385.4" cy="48.6" r="6.05"/><circle cx="382.4" cy="58.57" r="6.05"/><circle cx="378.6" cy="68.54" r="6.05"/><circle cx="373.3" cy="78.5" r="6.05"/><circle cx="368.5" cy="88.47" r="6.05"/><circle cx="361.5" cy="98.44" r="6.05"/><circle cx="352.5" cy="108.41" r="6.05"/><circle cx="342.5" cy="118.38" r="6.05"/><circle cx="322.5" cy="138.31" r="6.05"/><circle cx="309.5" cy="158.25" r="6.05"/><circle cx="299.3" cy="178.18" r="6.05"/><circle cx="291.1" cy="198.11" r="6.05"/><circle cx="284.4" cy="218.05" r="6.05"/><circle cx="269.3" cy="267.89" r="6.05"/><circle cx="260.7" cy="317.73" r="6.05"/><circle cx="241.6" cy="417.4" r="6.05"/><circle cx="220.5" cy="517.08" r="6.05"/><circle cx="203.4" cy="616.75" r="6.05"/><circle cx="188.3" cy="716.43" r="6.05"/><circle cx="177.4" cy="816.1" r="6.05"/></g>
<polyline points="415.7,19.68 415.7,21.77 415.9,23.98 402.9,26.32 389.6,28.83 380.7,31.54 372.4,34.51 365.7,37.78 359,41.43 352.8,45.55 347.4,50.22 341,55.58 335.4,61.76 330.6,68.94 325.3,77.31 319.2,87.28 309.5,99.04 299.3,113.19 291.6,129.94 284.4,149.87 277.4,173.99 271.4,202.7 265.7,237.39 263.6,279.25 260.5,329.49 253.4,389.69 242.6,462.25 227.5,548.97 209.5,652.83 192.4,776.63" fill="none" stroke="#ff00ff" stroke-width="2.6" stroke-linejoin="round" stroke-linecap="butt"/><g fill="#ff00ff"><circle cx="415.7" cy="19.68" r="6.05"/><circle cx="415.7" cy="21.77" r="6.05"/><circle cx="415.9" cy="23.98" r="6.05"/><circle cx="402.9" cy="26.32" r="6.05"/><circle cx="389.6" cy="28.83" r="6.05"/><circle cx="380.7" cy="31.54" r="6.05"/><circle cx="372.4" cy="34.51" r="6.05"/><circle cx="365.7" cy="37.78" r="6.05"/><circle cx="359" cy="41.43" r="6.05"/><circle cx="352.8" cy="45.55" r="6.05"/><circle cx="347.4" cy="50.22" r="6.05"/><circle cx="341" cy="55.58" r="6.05"/><circle cx="335.4" cy="61.76" r="6.05"/><circle cx="330.6" cy="68.94" r="6.05"/><circle cx="325.3" cy="77.31" r="6.05"/><circle cx="319.2" cy="87.28" r="6.05"/><circle cx="309.5" cy="99.04" r="6.05"/><circle cx="299.3" cy="113.19" r="6.05"/><circle cx="291.6" cy="129.94" r="6.05"/><circle cx="284.4" cy="149.87" r="6.05"/><circle cx="277.4" cy="173.99" r="6.05"/><circle cx="271.4" cy="202.7" r="6.05"/><circle cx="265.7" cy="237.39" r="6.05"/><circle cx="263.6" cy="279.25" r="6.05"/><circle cx="260.5" cy="329.49" r="6.05"/><circle cx="253.4" cy="389.69" r="6.05"/><circle cx="242.6" cy="462.25" r="6.05"/><circle cx="227.5" cy="548.97" r="6.05"/><circle cx="209.5" cy="652.83" r="6.05"/><circle cx="192.4" cy="776.63" r="6.05"/></g>
</g>
<rect x="88.5" y="19.5" width="387" height="795" fill="none" stroke="#000" stroke-width="1.4"/>
<path d="M102.5 815.1v5.8M166.5 815.1v5.8M230.5 815.1v5.8M295.5 815.1v5.8M359.5 815.1v5.8M423.5 815.1v5.8M87.9 19.5h-5.8M87.9 68.5h-5.8M87.9 118.5h-5.8M87.9 168.5h-5.8M87.9 218.5h-5.8M87.9 268.5h-5.8M87.9 317.5h-5.8M87.9 367.5h-5.8M87.9 417.5h-5.8M87.9 467.5h-5.8M87.9 517.5h-5.8M87.9 566.5h-5.8M87.9 616.5h-5.8M87.9 666.5h-5.8M87.9 716.5h-5.8M87.9 766.5h-5.8" stroke="#000" stroke-width="1.4" fill="none"/>
<g font-size="16.67" text-anchor="end">
<text transform="translate(75.9 25.8) scale(1 1.08)">0</text>
<text transform="translate(75.2 75.6) scale(1 1.08)">25</text>
<text transform="translate(75.2 125.6) scale(1 1.08)">50</text>
<text transform="translate(75.2 175.6) scale(1 1.08)">75</text>
<text transform="translate(75.2 225.6) scale(1 1.08)">100</text>
<text transform="translate(75.2 275.6) scale(1 1.08)">125</text>
<text transform="translate(75.2 324.6) scale(1 1.08)">150</text>
<text transform="translate(75.2 374.6) scale(1 1.08)">175</text>
<text transform="translate(75.2 424.6) scale(1 1.08)">200</text>
<text transform="translate(75.2 474.6) scale(1 1.08)">225</text>
<text transform="translate(75.2 524.6) scale(1 1.08)">250</text>
<text transform="translate(75.2 573.6) scale(1 1.08)">275</text>
<text transform="translate(75.2 623.6) scale(1 1.08)">300</text>
<text transform="translate(75.2 673.6) scale(1 1.08)">325</text>
<text transform="translate(75.2 723.6) scale(1 1.08)">350</text>
<text transform="translate(75.2 773.6) scale(1 1.08)">375</text>
</g>
<g font-size="16.67" text-anchor="middle">
<text transform="translate(102.5 841.9) scale(1 1.07)">4</text>
<text transform="translate(166.5 841.9) scale(1 1.07)">6</text>
<text transform="translate(230.5 841.9) scale(1 1.07)">8</text>
<text transform="translate(295.5 841.9) scale(1 1.07)">10</text>
<text transform="translate(359.5 841.9) scale(1 1.07)">12</text>
<text transform="translate(423.5 841.9) scale(1 1.07)">14</text>
</g>
</g>
<g id="panel2">
<path d="M609.5 814.5V19.5M714.5 814.5V19.5M819.5 814.5V19.5M924.5 814.5V19.5M585.5 68.5H972.5M585.5 118.5H972.5M585.5 168.5H972.5M585.5 218.5H972.5M585.5 268.5H972.5M585.5 317.5H972.5M585.5 367.5H972.5M585.5 417.5H972.5M585.5 467.5H972.5M585.5 517.5H972.5M585.5 566.5H972.5M585.5 616.5H972.5M585.5 666.5H972.5M585.5 716.5H972.5M585.5 766.5H972.5" stroke="#bcbcbc" stroke-width="1" stroke-dasharray="3.15 1.4" fill="none"/>
<g clip-path="url(#cp2)">
<path d="M649.4 21.4h0M650.3 23.3h0M650.1 25.7h0M650.9 27.3h0M650.8 29.3h0M651.5 31.7h0M653.1 33.4h0M653.7 35.6h0M654.0 37.7h0M655.5 39.3h0M655.5 41.6h0M655.3 43.7h0M655.4 45.5h0M655.7 47.5h0M656.6 49.5h0M656.8 51.8h0M656.7 53.3h0M657.5 55.3h0M658.3 57.4h0M658.2 59.5h0M659.5 61.7h0M660.2 63.3h0M660.7 65.6h0M661.4 67.7h0M662.9 69.3h0M663.1 71.3h0M664.3 73.2h0M665.0 75.2h0M665.9 77.5h0M666.9 79.3h0M670.5 81.4h0M684.9 83.6h0M691.0 85.2h0M694.5 87.2h0M698.1 89.3h0M699.6 91.6h0M701.8 93.4h0M700.4 95.4h0M702.5 97.4h0M704.3 99.3h0M706.3 101.4h0M708.0 103.4h0M710.6 105.4h0M712.1 107.7h0M713.8 109.5h0M714.7 111.7h0M716.3 113.6h0M717.3 115.6h0M718.3 117.4h0M720.0 119.5h0M721.9 121.5h0M723.8 123.7h0M726.0 125.3h0M726.9 127.4h0M728.5 129.7h0M730.6 131.4h0M731.5 133.7h0M733.6 135.6h0M734.8 137.6h0M735.9 139.4h0M737.4 141.7h0M739.3 143.8h0M740.5 145.2h0M741.3 147.8h0M743.0 149.5h0M744.1 151.7h0M746.2 153.8h0M747.7 155.8h0M749.7 157.3h0M752.1 159.6h0M753.8 161.5h0M756.7 163.5h0M758.8 165.6h0M761.2 167.3h0M762.6 169.7h0M763.8 171.3h0M764.5 173.5h0M765.4 175.5h0M766.7 177.2h0M767.7 179.6h0M769.6 181.2h0M772.0 183.4h0M773.8 185.5h0M774.3 187.6h0M775.9 189.7h0M777.8 191.7h0M777.8 193.2h0M779.3 195.3h0M779.4 197.2h0M780.1 199.5h0M782.1 201.4h0M782.4 203.7h0M783.4 205.6h0M785.0 207.8h0M785.5 209.5h0M786.9 211.7h0M787.7 213.6h0M788.7 215.5h0M790.5 217.3h0M790.8 219.8h0M792.2 221.2h0M792.5 223.3h0M793.2 225.7h0M794.2 227.8h0M794.7 229.6h0M795.0 231.6h0M795.7 233.2h0M796.3 235.4h0M796.9 237.2h0M797.0 239.8h0M798.0 241.4h0M798.5 243.6h0M800.0 245.3h0M800.2 247.5h0M801.2 249.5h0M801.4 251.3h0M802.7 253.2h0M803.5 255.2h0M803.5 257.5h0M804.7 259.6h0M805.0 261.7h0M805.4 263.2h0M805.9 265.3h0M805.6 267.2h0M805.9 269.7h0M806.7 271.3h0M806.9 273.7h0M808.1 275.7h0M808.1 277.3h0M808.9 279.3h0M809.3 281.3h0M810.5 283.3h0M810.5 285.5h0M811.3 287.3h0M812.1 289.5h0M812.5 291.5h0M812.6 293.6h0M813.3 295.4h0M813.6 297.7h0M814.8 299.4h0M815.2 301.8h0M815.3 303.4h0M816.5 305.4h0M816.8 307.7h0M816.4 309.4h0M817.1 311.7h0M818.0 313.6h0M818.5 315.3h0M818.2 317.7h0M818.8 319.3h0M819.2 321.6h0M819.3 323.4h0M819.1 325.8h0M819.6 327.5h0M819.8 329.8h0M819.9 331.6h0M820.3 333.3h0M820.0 335.5h0M819.9 337.7h0M820.1 339.6h0M820.6 341.4h0M821.2 343.3h0M821.2 345.7h0M822.2 347.4h0M822.0 349.6h0M822.4 351.7h0M822.9 353.5h0M823.5 355.2h0M823.7 357.2h0M824.6 359.4h0M826.0 361.6h0M825.8 363.6h0M827.0 365.5h0M828.6 367.7h0M829.9 369.5h0M830.4 371.4h0M831.6 373.6h0M832.6 375.6h0M832.6 377.7h0M833.8 379.3h0M833.7 381.3h0M833.3 383.4h0M833.8 385.6h0M834.5 387.6h0M835.2 389.2h0M834.5 391.2h0M835.2 393.7h0M835.7 395.5h0M836.1 397.4h0M835.6 399.6h0M835.8 401.3h0M836.1 403.3h0M836.4 405.5h0M836.7 407.6h0M837.7 409.4h0M837.1 411.6h0M837.9 413.7h0M837.9 415.5h0M838.5 417.6h0M838.8 419.4h0M838.7 421.6h0M838.6 423.2h0M838.8 425.4h0M839.1 427.5h0M839.1 429.2h0M838.8 431.6h0M839.5 433.8h0M839.7 435.4h0M839.5 437.5h0M839.9 439.4h0M840.2 441.5h0M839.7 443.5h0M839.8 445.8h0M839.6 447.4h0M840.8 449.6h0M842.0 451.3h0M843.5 453.6h0M845.0 455.5h0M845.6 457.4h0M847.4 459.3h0M847.5 461.7h0M848.3 463.3h0M848.2 465.7h0M849.2 467.2h0M849.2 469.3h0M849.1 471.6h0M848.7 473.8h0M849.1 475.3h0M849.7 477.3h0M849.0 479.6h0M849.6 481.7h0M850.1 483.3h0M849.4 485.6h0M849.9 487.4h0M850.4 489.3h0M850.1 491.2h0M850.4 493.8h0M850.1 495.4h0M850.0 497.7h0M849.2 499.2h0M848.0 501.3h0M847.1 503.8h0M846.6 505.3h0M845.3 507.4h0M844.0 509.6h0M843.8 511.4h0M842.7 513.6h0M842.8 515.5h0M841.9 517.3h0M841.8 519.7h0M841.9 521.6h0M841.6 523.4h0M841.1 525.8h0M841.4 527.3h0M841.4 529.6h0M841.2 531.7h0M841.1 533.7h0M841.4 535.4h0M841.0 537.4h0M840.8 539.4h0M841.2 541.4h0M841.0 543.7h0M841.6 545.6h0M841.7 547.4h0M841.6 549.4h0M841.3 551.3h0M842.0 553.8h0M841.5 555.4h0M841.4 557.3h0M842.1 559.7h0M841.6 561.4h0M842.4 563.3h0M842.6 565.4h0M842.3 567.3h0M842.1 569.5h0M842.1 571.6h0M841.8 573.6h0M842.6 575.4h0M842.0 577.3h0M841.8 579.7h0M842.4 581.2h0M842.2 583.6h0M842.1 585.2h0M842.2 587.4h0M842.8 589.4h0M842.8 591.7h0M842.4 593.3h0M842.6 595.3h0M842.4 597.3h0M841.9 599.4h0M841.9 601.8h0M842.4 603.7h0M842.8 605.7h0M842.5 607.5h0M842.7 609.6h0M842.2 611.5h0M842.5 613.5h0M843.0 615.6h0M842.9 617.7h0M843.3 619.3h0M842.6 621.2h0M842.8 623.8h0M843.0 625.5h0M843.3 627.5h0M843.3 629.7h0M843.5 631.7h0M844.2 633.2h0M844.1 635.3h0M844.6 637.2h0M844.1 639.7h0M844.6 641.6h0M844.6 643.5h0M844.5 645.5h0M844.7 647.6h0M844.7 649.3h0M844.9 651.5h0M845.5 653.2h0M846.1 655.7h0M845.6 657.3h0M846.2 659.8h0M845.7 661.7h0M846.5 663.8h0M846.0 665.3h0M846.1 667.3h0M847.1 669.7h0M846.7 671.3h0M846.8 673.3h0M847.2 675.6h0M847.5 677.5h0M847.3 679.5h0M847.4 681.5h0M847.9 683.6h0M847.6 685.5h0M847.6 687.2h0M848.0 689.4h0M847.8 691.2h0M848.4 693.8h0M849.0 695.2h0M848.6 697.4h0M848.8 699.3h0M849.3 701.7h0M849.2 703.3h0M849.1 705.2h0M850.0 707.3h0M850.1 709.7h0M849.6 711.3h0M850.1 713.7h0M850.7 715.4h0M850.6 717.4h0M850.8 719.7h0M850.8 721.7h0M851.7 723.6h0M851.9 725.8h0M851.2 727.8h0M851.4 729.7h0M851.4 731.4h0M851.9 733.7h0M852.3 735.3h0M852.7 737.7h0M852.4 739.2h0M852.2 741.4h0M852.5 743.8h0M852.9 745.7h0M852.4 747.3h0M853.3 749.4h0M852.9 751.2h0M852.9 753.4h0M853.6 755.4h0M853.8 757.4h0M853.4 759.6h0M853.9 761.5h0M854.1 763.4h0M853.9 765.4h0M854.4 767.3h0M854.3 769.5h0M854.5 771.7h0M855.1 773.5h0M855.5 775.2h0M855.2 777.7h0M856.0 779.5h0M855.9 781.7h0M856.3 783.7h0M856.9 785.7h0M856.9 787.6h0M856.8 789.5h0M857.0 791.5h0M857.4 793.7h0M856.7 795.7h0M857.4 797.6h0M857.8 799.2h0M857.5 801.4h0M858.1 803.3h0M857.8 805.3h0M858.1 807.5h0M858.1 809.4h0M858.2 811.2h0M857.5 813.6h0M858.2 815.7h0M857.6 817.2h0M637.8 21.6h0M637.1 23.8h0M637.6 25.2h0M637.6 27.4h0M637.2 29.7h0M638.1 31.3h0M637.5 33.4h0M637.8 35.3h0M637.4 37.4h0M637.6 39.5h0M637.7 41.8h0M638.1 43.7h0M638.8 45.3h0M639.3 47.5h0M641.4 49.6h0M643.8 51.8h0M646.3 53.2h0M648.0 55.3h0M650.8 57.7h0M651.6 59.3h0M652.7 61.7h0M654.2 63.4h0M654.2 65.8h0M656.0 67.6h0M656.1 69.6h0M656.8 71.5h0M656.6 73.5h0M657.5 75.4h0M657.9 77.3h0M658.6 79.3h0M658.3 81.8h0M659.5 83.8h0M659.8 85.7h0M660.2 87.5h0M661.8 89.6h0M665.6 91.7h0M670.7 93.2h0M677.9 95.5h0M683.1 97.8h0M687.7 99.6h0M693.5 101.6h0M698.0 103.6h0M699.2 105.7h0M701.5 107.7h0M702.8 109.3h0M704.4 111.6h0M706.1 113.3h0M706.6 115.4h0M707.9 117.3h0M709.0 119.4h0M710.7 121.7h0M712.5 123.2h0M715.4 125.6h0M717.9 127.6h0M719.7 129.4h0M721.2 131.6h0M722.9 133.6h0M725.6 135.6h0M726.8 137.7h0M728.5 139.7h0M729.8 141.5h0M730.0 143.6h0M732.0 145.7h0M733.3 147.4h0M734.3 149.7h0M736.7 151.8h0M738.4 153.7h0M740.4 155.8h0M741.1 157.7h0M741.8 159.2h0M742.5 161.4h0M744.1 163.4h0M744.1 165.6h0M745.0 167.4h0M746.6 169.3h0M748.0 171.5h0M749.5 173.4h0M751.0 175.3h0M751.4 177.3h0M751.4 179.4h0M753.0 181.4h0M753.1 183.5h0M753.5 185.5h0M753.8 187.4h0M754.5 189.7h0M755.5 191.6h0M755.8 193.7h0M759.1 195.2h0M762.8 197.6h0M765.6 199.8h0M767.5 201.3h0M769.3 203.6h0M771.0 205.3h0M773.1 207.5h0M774.1 209.8h0M775.6 211.2h0M776.9 213.4h0M777.4 215.4h0M778.8 217.4h0M779.9 219.7h0M781.4 221.7h0M782.9 223.4h0M784.2 225.3h0M785.2 227.2h0M785.9 229.8h0M787.2 231.6h0M788.7 233.2h0M789.5 235.2h0M790.1 237.7h0M790.1 239.5h0M790.0 241.6h0M790.3 243.5h0M791.5 245.6h0M790.9 247.6h0M791.9 249.4h0M793.0 251.5h0M793.6 253.5h0M794.4 255.4h0M796.1 257.4h0M796.3 259.4h0M796.0 261.2h0M797.2 263.7h0M797.6 265.6h0M796.9 267.3h0M797.1 269.6h0M797.8 271.8h0M797.5 273.3h0M797.5 275.3h0M797.3 277.5h0M797.8 279.4h0M799.0 281.4h0M799.9 283.5h0M800.1 285.2h0M801.7 287.7h0M802.2 289.6h0M803.6 291.6h0M805.4 293.6h0M806.0 295.3h0M808.0 297.7h0M808.6 299.5h0M807.8 301.4h0M808.8 303.2h0M808.3 305.2h0M809.0 307.4h0M808.3 309.4h0M808.5 311.5h0M809.1 313.6h0M808.6 315.5h0M809.3 317.5h0M810.9 319.4h0M811.7 321.3h0M812.1 323.7h0M812.5 325.5h0M813.6 327.6h0M814.6 329.6h0M814.2 331.3h0M815.0 333.4h0M815.6 335.3h0M816.2 337.4h0M815.7 339.3h0M816.7 341.7h0M816.6 343.4h0M816.7 345.3h0M816.4 347.8h0M815.9 349.2h0M815.8 351.3h0M816.5 353.6h0M816.2 355.3h0M816.6 357.3h0M816.4 359.6h0M817.4 361.7h0M818.3 363.3h0M818.5 365.3h0M819.6 367.2h0M820.9 369.6h0M821.4 371.5h0M821.8 373.7h0M822.0 375.7h0M821.6 377.4h0M821.7 379.7h0M822.4 381.8h0M822.5 383.5h0M823.4 385.8h0M823.6 387.7h0M824.0 389.4h0M824.0 391.2h0M824.3 393.8h0M824.4 395.3h0M824.7 397.2h0M824.9 399.2h0M825.1 401.7h0M825.7 403.7h0M825.7 405.5h0M825.5 407.7h0M826.2 409.4h0M826.0 411.5h0M826.1 413.3h0M826.3 415.5h0M826.5 417.7h0M827.2 419.7h0M827.4 421.3h0M827.3 423.7h0M827.8 425.6h0M828.1 427.2h0M827.7 429.5h0M828.6 431.8h0M828.4 433.4h0M827.9 435.5h0M828.5 437.8h0M828.4 439.3h0M828.3 441.2h0M829.3 443.7h0M828.7 445.2h0M829.3 447.3h0M829.6 449.7h0M830.0 451.4h0M830.2 453.4h0M830.6 455.4h0M831.0 457.6h0M831.4 459.4h0M831.7 461.5h0M831.2 463.6h0M831.6 465.3h0M831.6 467.6h0M831.9 469.3h0M832.5 471.3h0M832.6 473.4h0M832.3 475.8h0M832.9 477.7h0M833.1 479.6h0M833.2 481.6h0M832.9 483.4h0M832.7 485.5h0M832.7 487.6h0M833.3 489.6h0M832.6 491.2h0M832.7 493.5h0M833.2 495.5h0M832.9 497.6h0M832.9 499.6h0M832.9 501.5h0M832.5 503.3h0M832.7 505.7h0M833.2 507.4h0M832.8 509.5h0M832.7 511.3h0M833.1 513.3h0M832.5 515.4h0M832.5 517.3h0M832.3 519.5h0M832.5 521.6h0M832.9 523.6h0M832.8 525.6h0M832.7 527.5h0M833.2 529.3h0M833.4 531.6h0M833.7 533.6h0M833.4 535.7h0M833.2 537.4h0M833.5 539.6h0M833.9 541.3h0M834.3 543.8h0M833.9 545.8h0M834.1 547.4h0M833.6 549.2h0M834.3 551.6h0M834.4 553.7h0M834.4 555.6h0M834.6 557.6h0M834.7 559.6h0M834.8 561.3h0M835.1 563.6h0M834.9 565.8h0M835.0 567.3h0M835.1 569.4h0M834.7 571.7h0M834.7 573.6h0M834.7 575.5h0M835.6 577.3h0M835.5 579.2h0M835.6 581.7h0M835.1 583.6h0M835.1 585.3h0M835.0 587.5h0M835.6 589.3h0M835.2 591.5h0M835.2 593.7h0M835.3 595.4h0M835.7 597.6h0M835.0 599.5h0M835.6 601.2h0M835.4 603.5h0M835.0 605.3h0M835.0 607.5h0M835.3 609.6h0M835.3 611.6h0M835.6 613.7h0M836.1 615.3h0M836.4 617.5h0M835.8 619.4h0M836.3 621.5h0M836.4 623.4h0M836.7 625.4h0M836.8 627.5h0M836.4 629.5h0M836.7 631.5h0M837.0 633.8h0M837.3 635.3h0M837.8 637.2h0M836.9 639.7h0M837.3 641.2h0M837.4 643.5h0M838.3 645.2h0M837.7 647.2h0M837.7 649.4h0M838.3 651.8h0M838.7 653.7h0M838.8 655.7h0M839.0 657.3h0M838.8 659.5h0M838.7 661.8h0M839.3 663.3h0M839.4 665.7h0M839.3 667.6h0M839.3 669.3h0M839.6 671.5h0M840.3 673.3h0M840.4 675.6h0M840.6 677.8h0M840.3 679.8h0M840.6 681.5h0M840.5 683.3h0M841.2 685.3h0M840.6 687.3h0M841.4 689.3h0M841.3 691.7h0M841.6 693.3h0M842.1 695.8h0M842.2 697.5h0M842.3 699.6h0M842.8 701.7h0M842.3 703.7h0M842.3 705.3h0M842.9 707.3h0M843.2 709.4h0M843.8 711.5h0M843.9 713.8h0M843.7 715.7h0M843.9 717.4h0M843.7 719.6h0M844.8 721.6h0M844.3 723.5h0M844.5 725.4h0M845.2 727.2h0M845.0 729.5h0M844.7 731.6h0M845.0 733.4h0M845.1 735.6h0M845.5 737.6h0M845.6 739.7h0M845.9 741.3h0M845.9 743.4h0M845.8 745.8h0M846.2 747.6h0M846.0 749.6h0M846.2 751.3h0M846.3 753.2h0M847.4 755.8h0M847.0 757.2h0M847.5 759.6h0M847.0 761.7h0M847.2 763.3h0M848.1 765.7h0M847.7 767.5h0M848.6 769.6h0M848.5 771.3h0M848.2 773.3h0M848.9 775.6h0M849.0 777.6h0M849.4 779.6h0M849.4 781.7h0M849.8 783.7h0M850.5 785.7h0M850.4 787.6h0M850.3 789.3h0M849.9 791.6h0M850.2 793.6h0M850.7 795.6h0M850.7 797.3h0M850.6 799.6h0M851.4 801.4h0M850.9 803.5h0M851.2 805.6h0M851.6 807.7h0M851.6 809.6h0M851.8 811.5h0M851.2 813.6h0M851.1 815.7h0M851.2 817.5h0M644.0 21.4h0M643.8 23.4h0M644.6 25.8h0M644.5 27.7h0M645.5 29.7h0M644.9 31.2h0M645.8 33.2h0M645.7 35.8h0M646.7 37.7h0M647.7 39.3h0M648.3 41.3h0M649.3 43.5h0M650.7 45.4h0M651.2 47.3h0M651.5 49.2h0M652.6 51.6h0M653.6 53.5h0M654.6 55.6h0M655.0 57.7h0M655.3 59.4h0M656.5 61.6h0M657.8 63.6h0M657.6 65.8h0M658.8 67.3h0M660.4 69.6h0M662.1 71.5h0M663.1 73.5h0M665.0 75.4h0M666.8 77.3h0M668.1 79.3h0M669.5 81.5h0M671.9 83.4h0M673.7 85.6h0M675.1 87.4h0M677.8 89.4h0M680.8 91.3h0M684.0 93.6h0M686.2 95.6h0M689.3 97.4h0M692.6 99.4h0M695.7 101.3h0M698.8 103.3h0M702.3 105.4h0M705.3 107.5h0M707.9 109.7h0M709.3 111.7h0M711.2 113.8h0M712.4 115.6h0M713.7 117.4h0M715.7 119.6h0M717.0 121.7h0M718.8 123.5h0M720.9 125.7h0M722.8 127.3h0M724.3 129.3h0M725.7 131.4h0M727.5 133.5h0M728.1 135.4h0M730.3 137.4h0M730.9 139.5h0M732.8 141.8h0M733.6 143.4h0M735.7 145.5h0M737.1 147.6h0M737.9 149.2h0M739.5 151.4h0M741.1 153.4h0M742.5 155.2h0M744.5 157.7h0M745.6 159.3h0M747.7 161.2h0M748.6 163.5h0M750.3 165.7h0M752.1 167.5h0M753.4 169.2h0M755.4 171.4h0M756.9 173.3h0M757.9 175.5h0M759.1 177.2h0M761.4 179.8h0M763.0 181.5h0M764.1 183.6h0M765.3 185.3h0M767.0 187.5h0M768.4 189.2h0M769.4 191.3h0M771.3 193.5h0M772.2 195.7h0M773.9 197.4h0M775.1 199.2h0M776.2 201.2h0M778.6 203.7h0M779.5 205.8h0M780.9 207.6h0M781.7 209.5h0M783.4 211.4h0M784.6 213.4h0M785.8 215.3h0M786.8 217.5h0M788.0 219.2h0M788.9 221.6h0M790.0 223.5h0M792.0 225.6h0M792.9 227.7h0M793.9 229.4h0M793.8 231.7h0M793.9 233.5h0M794.7 235.5h0M795.8 237.7h0M796.1 239.6h0M796.2 241.6h0M797.6 243.6h0M797.7 245.5h0M798.1 247.3h0M798.3 249.7h0M799.1 251.2h0M799.6 253.7h0M800.0 255.3h0M800.8 257.3h0M800.7 259.5h0M800.7 261.4h0M801.1 263.3h0M801.4 265.6h0M802.5 267.4h0M803.4 269.5h0M803.5 271.8h0M804.5 273.5h0M805.2 275.6h0M805.5 277.2h0M806.6 279.6h0M807.2 281.3h0M808.0 283.3h0M808.8 285.6h0M809.3 287.2h0M809.5 289.6h0M809.7 291.2h0M810.6 293.7h0M811.3 295.3h0M811.2 297.7h0M812.5 299.6h0M812.3 301.7h0M812.6 303.3h0M813.5 305.8h0M813.6 307.3h0M814.8 309.7h0M814.5 311.2h0M815.5 313.8h0M815.9 315.5h0M815.3 317.6h0M816.2 319.7h0M816.6 321.5h0M817.2 323.5h0M816.9 325.6h0M817.6 327.6h0M818.0 329.4h0M818.1 331.7h0M817.7 333.2h0M818.2 335.6h0M818.8 337.5h0M818.7 339.7h0M818.3 341.6h0M818.8 343.3h0M818.8 345.4h0M819.5 347.5h0M819.7 349.2h0M820.8 351.7h0M821.5 353.7h0M821.2 355.4h0M822.3 357.4h0M823.3 359.3h0M823.0 361.5h0M823.6 363.2h0M824.9 365.6h0M825.4 367.2h0M825.7 369.5h0M825.8 371.3h0M825.9 373.5h0M826.4 375.6h0M827.1 377.4h0M827.3 379.4h0M827.7 381.3h0M827.9 383.6h0M828.4 385.5h0M828.8 387.8h0M829.0 389.4h0M828.7 391.6h0M828.8 393.3h0M829.0 395.6h0M829.6 397.8h0M830.4 399.5h0M830.2 401.4h0M830.1 403.3h0M831.3 405.4h0M830.6 407.8h0M831.2 409.7h0M831.5 411.8h0M831.3 413.5h0M832.1 415.2h0M832.6 417.4h0M832.6 419.2h0M832.1 421.3h0M833.1 423.8h0M833.4 425.5h0M832.7 427.7h0M833.3 429.7h0M833.5 431.5h0M833.1 433.3h0M833.1 435.5h0M833.5 437.8h0M833.3 439.7h0M833.5 441.3h0M834.5 443.3h0M834.2 445.6h0M834.2 447.4h0M834.1 449.6h0M834.7 451.6h0M835.5 453.2h0M835.3 455.4h0M836.1 457.6h0M835.6 459.5h0M835.7 461.5h0M836.0 463.3h0M836.8 465.5h0M836.7 467.6h0M836.9 469.6h0M836.7 471.7h0M837.2 473.3h0M837.1 475.6h0M837.0 477.7h0M837.2 479.4h0M837.1 481.5h0M838.2 483.3h0M837.4 485.5h0M838.0 487.3h0M837.5 489.6h0M837.5 491.2h0M837.9 493.7h0M838.0 495.7h0M837.3 497.4h0M837.7 499.6h0M837.7 501.5h0M837.3 503.3h0M837.1 505.2h0M837.6 507.3h0M837.9 509.8h0M837.1 511.8h0M837.6 513.2h0M837.4 515.4h0M837.3 517.2h0M837.2 519.2h0M837.4 521.5h0M837.2 523.8h0M837.9 525.5h0M837.8 527.4h0M837.9 529.7h0M837.5 531.6h0M837.6 533.3h0M837.8 535.3h0M838.2 537.4h0M838.1 539.7h0M838.3 541.7h0M838.5 543.6h0M838.7 545.6h0M839.0 547.6h0M838.8 549.5h0M838.7 551.8h0M838.6 553.3h0M838.9 555.4h0M839.2 557.6h0M838.5 559.3h0M839.3 561.4h0M839.5 563.5h0M839.0 565.6h0M840.0 567.3h0M839.6 569.6h0M839.6 571.5h0M839.5 573.8h0M839.9 575.5h0M839.8 577.6h0M839.8 579.8h0M839.0 581.3h0M839.2 583.7h0M839.9 585.3h0M839.4 587.7h0M839.7 589.6h0M839.9 591.8h0M839.0 593.8h0M839.2 595.6h0M839.7 597.4h0M839.2 599.7h0M839.8 601.8h0M839.0 603.6h0M839.7 605.8h0M839.7 607.4h0M839.1 609.3h0M839.4 611.5h0M839.6 613.3h0M839.4 615.6h0M840.3 617.3h0M840.1 619.8h0M840.0 621.5h0M840.6 623.2h0M840.8 625.7h0M840.7 627.4h0M840.6 629.8h0M840.3 631.2h0M841.1 633.8h0M840.7 635.3h0M841.2 637.7h0M841.5 639.6h0M841.1 641.3h0M841.9 643.6h0M841.5 645.3h0M841.9 647.4h0M842.0 649.3h0M841.9 651.6h0M843.0 653.6h0M843.1 655.3h0M842.9 657.4h0M843.3 659.6h0M843.2 661.7h0M843.8 663.3h0M843.3 665.3h0M843.6 667.3h0M843.9 669.4h0M843.3 671.7h0M843.6 673.4h0M844.2 675.2h0M844.6 677.6h0M844.0 679.6h0M844.2 681.5h0M844.3 683.4h0M844.9 685.5h0M845.2 687.8h0M845.1 689.4h0M845.1 691.6h0M845.4 693.3h0M845.4 695.5h0M846.3 697.5h0M846.4 699.5h0M846.3 701.4h0M846.3 703.6h0M846.1 705.5h0M846.5 707.4h0M846.8 709.3h0M847.2 711.2h0M847.0 713.4h0M847.2 715.7h0M847.9 717.7h0M847.5 719.3h0M847.9 721.5h0M848.7 723.7h0M848.9 725.2h0M848.1 727.4h0M848.7 729.2h0M848.7 731.3h0M849.4 733.3h0M848.9 735.3h0M849.7 737.3h0M849.3 739.3h0M849.3 741.8h0M849.9 743.6h0M849.6 745.8h0M850.5 747.6h0M849.8 749.2h0M850.3 751.5h0M850.9 753.8h0M851.0 755.3h0M851.3 757.6h0M850.5 759.3h0M851.6 761.7h0M851.6 763.6h0M850.9 765.8h0M851.4 767.7h0M851.9 769.5h0M852.1 771.8h0M852.7 773.4h0M852.9 775.3h0M852.5 777.4h0M852.4 779.4h0M852.6 781.8h0M853.7 783.5h0M853.1 785.4h0M854.0 787.4h0M853.4 789.5h0M854.0 791.3h0M853.9 793.5h0M854.4 795.4h0M854.8 797.4h0M854.7 799.2h0M855.0 801.5h0M854.3 803.7h0M855.2 805.3h0M855.2 807.8h0M854.6 809.7h0M855.0 811.5h0M854.7 813.4h0M855.1 815.7h0M855.3 817.2h0M740.6 150.2h0M744.0 154.4h0M744.7 156.2h0M746.3 158.7h0M749.5 160.3h0M751.2 162.2h0M753.0 164.5h0M754.3 166.7h0M756.5 168.5h0M758.5 170.2h0M758.9 172.4h0M761.1 174.3h0M762.0 176.5h0M762.8 178.2h0M765.3 180.8h0M766.5 182.5h0M768.7 184.6h0M769.1 186.3h0M770.5 188.5h0M771.8 190.2h0M773.6 192.3h0M775.0 194.5h0M776.6 196.7h0M777.3 198.4h0M779.7 202.2h0M829.5 374.5h0M829.9 376.6h0M830.2 378.4h0M829.9 380.4h0M830.6 382.3h0M830.6 384.6h0M830.4 386.5h0M832.3 388.8h0M831.9 390.4h0M831.2 392.6h0M831.3 394.3h0M832.4 396.6h0M832.6 398.8h0M833.7 400.5h0M833.2 402.4h0M833.0 404.3h0M833.3 406.4h0M832.9 408.8h0M834.7 410.7h0M834.5 412.8h0M834.6 414.5h0M835.0 416.2h0M835.4 418.4h0M836.3 420.2h0M834.7 422.3h0M835.4 424.8h0M836.6 426.5h0M835.6 428.7h0M835.9 430.7h0M836.1 432.5h0M836.0 434.3h0M836.8 436.5h0M835.8 438.8h0M836.7 440.7h0M837.2 442.3h0M836.8 444.3h0M837.4 446.6h0M836.7 448.4h0M837.7 450.6h0M837.7 452.6h0M839.2 454.2h0M840.2 456.4h0M841.0 458.6h0M841.4 460.5h0M840.8 462.5h0M842.2 464.3h0M843.1 466.5h0M842.6 468.6h0M842.6 470.6h0M843.1 472.7h0M842.5 474.3h0M842.5 476.6h0M842.7 478.7h0M843.3 480.4h0M844.0 482.5h0M844.6 484.3h0M843.5 486.5h0M844.5 488.3h0M844.5 490.6h0M843.4 492.2h0M844.0 494.7h0M844.8 496.7h0M844.4 498.4h0M843.7 500.6h0M843.1 502.5h0M841.9 504.3h0M841.2 506.2h0M841.2 508.3h0M840.5 510.8h0M840.7 512.8h0M840.4 514.2h0M840.3 516.4h0M745.8 162.2h0M746.4 166.7h0M748.1 168.5h0M749.3 170.2h0M751.5 172.4h0M753.9 174.3h0M754.4 176.5h0M755.7 178.2h0M755.9 180.8h0M757.7 182.5h0M759.1 184.6h0M759.1 186.3h0M760.7 188.5h0M761.6 190.2h0M762.7 192.3h0M762.8 194.5h0M765.5 196.7h0M769.1 198.4h0M770.2 200.2h0M771.5 202.2h0M774.7 204.7h0M775.4 206.8h0M777.3 208.6h0M777.9 210.5h0M779.7 212.4h0M780.6 214.4h0M781.2 216.3h0M782.5 218.5h0M783.5 220.2h0M785.5 222.6h0M785.8 224.5h0M787.5 226.6h0M789.1 228.7h0M790.7 230.4h0M791.0 232.7h0M791.6 234.5h0M792.5 236.5h0M792.5 238.7h0M793.1 240.6h0M792.3 242.6h0M794.0 244.6h0M793.9 246.5h0M793.9 248.3h0M794.5 250.7h0M795.8 252.2h0M796.5 254.7h0M796.8 256.3h0M799.0 268.4h0M799.7 270.5h0M801.4 272.8h0M801.8 274.5h0M802.0 276.6h0M800.8 278.2h0M801.7 280.6h0M803.7 282.3h0M803.2 284.3h0M803.9 286.6h0M805.7 288.2h0M806.6 290.6h0M807.3 292.2h0M808.5 294.7h0M808.3 296.3h0M811.2 306.8h0M812.2 310.7h0M812.2 312.2h0M813.0 314.8h0M812.7 316.5h0M812.7 318.6h0M813.9 320.7h0M814.5 324.5h0M818.4 352.7h0M819.4 356.4h0M819.5 358.4h0M819.1 360.3h0M820.1 362.5h0M821.6 364.2h0M822.0 366.6h0M822.5 368.2h0M825.0 378.4h0M824.9 380.4h0M824.6 382.3h0M825.5 384.6h0M826.8 388.8h0M826.8 400.5h0M828.3 402.4h0M828.4 406.4h0M828.6 408.8h0M828.0 412.8h0M828.4 414.5h0M828.9 416.2h0M829.1 418.4h0M830.2 420.2h0M830.7 424.8h0M830.9 426.5h0M831.2 430.7h0M829.9 436.5h0M830.6 438.8h0M830.7 442.3h0M832.3 444.3h0M831.8 446.6h0M833.6 454.2h0M834.2 458.6h0M834.2 466.5h0M834.5 468.6h0M834.9 470.6h0M835.6 484.3h0M835.6 488.3h0M835.9 494.7h0M835.9 510.8h0M834.8 526.5h0M834.5 528.4h0M836.0 538.4h0M836.7 550.5h0M836.8 576.5h0" fill="none" stroke="#00ffff" stroke-width="6" stroke-linecap="round"/>
<polyline points="643.5,28.67 650.4,48.6 658.3,68.54 674.8,88.47 705.5,108.41 722.4,128.34 736.5,148.28 751.7,168.21 766.4,188.15 780.4,208.08 792.1,228.02 797.5,247.95 801.5,267.89 808.4,287.82 813.4,307.76 816.5,327.69 818.5,347.63 824.6,367.56 827.6,387.5 830.4,407.43 832.4,427.37 833.5,447.3 836.3,467.24 837.1,487.17 836.8,507.11 836.8,527.04 837.8,546.98 838.8,566.91 838.8,586.85 838.8,606.78 839.8,626.72 841.4,646.65 842.9,666.59 844.4,686.52 846.1,706.46 848,726.39 849.3,746.33 851,766.26 853.1,786.2 854.3,806.13" fill="none" stroke="#0000ff" stroke-width="2.6" stroke-linejoin="round" stroke-linecap="butt"/><g fill="#0000ff"><circle cx="643.5" cy="28.67" r="6.05"/><circle cx="650.4" cy="48.6" r="6.05"/><circle cx="658.3" cy="68.54" r="6.05"/><circle cx="674.8" cy="88.47" r="6.05"/><circle cx="705.5" cy="108.41" r="6.05"/><circle cx="722.4" cy="128.34" r="6.05"/><circle cx="736.5" cy="148.28" r="6.05"/><circle cx="751.7" cy="168.21" r="6.05"/><circle cx="766.4" cy="188.15" r="6.05"/><circle cx="780.4" cy="208.08" r="6.05"/><circle cx="792.1" cy="228.02" r="6.05"/><circle cx="797.5" cy="247.95" r="6.05"/><circle cx="801.5" cy="267.89" r="6.05"/><circle cx="808.4" cy="287.82" r="6.05"/><circle cx="813.4" cy="307.76" r="6.05"/><circle cx="816.5" cy="327.69" r="6.05"/><circle cx="818.5" cy="347.63" r="6.05"/><circle cx="824.6" cy="367.56" r="6.05"/><circle cx="827.6" cy="387.5" r="6.05"/><circle cx="830.4" cy="407.43" r="6.05"/><circle cx="832.4" cy="427.37" r="6.05"/><circle cx="833.5" cy="447.3" r="6.05"/><circle cx="836.3" cy="467.24" r="6.05"/><circle cx="837.1" cy="487.17" r="6.05"/><circle cx="836.8" cy="507.11" r="6.05"/><circle cx="836.8" cy="527.04" r="6.05"/><circle cx="837.8" cy="546.98" r="6.05"/><circle cx="838.8" cy="566.91" r="6.05"/><circle cx="838.8" cy="586.85" r="6.05"/><circle cx="838.8" cy="606.78" r="6.05"/><circle cx="839.8" cy="626.72" r="6.05"/><circle cx="841.4" cy="646.65" r="6.05"/><circle cx="842.9" cy="666.59" r="6.05"/><circle cx="844.4" cy="686.52" r="6.05"/><circle cx="846.1" cy="706.46" r="6.05"/><circle cx="848" cy="726.39" r="6.05"/><circle cx="849.3" cy="746.33" r="6.05"/><circle cx="851" cy="766.26" r="6.05"/><circle cx="853.1" cy="786.2" r="6.05"/><circle cx="854.3" cy="806.13" r="6.05"/></g>
<polyline points="722.1,18.7 722.4,22.69 723.4,26.67 725.5,30.66 728,34.65 731,38.64 733.6,42.62 736.6,48.6 738.5,58.57 740.2,68.54 742.3,78.5 746.8,88.47 752.3,98.44 756.6,108.41 763,118.38 772.6,138.31 778.2,158.25 782.8,178.18 792.6,198.11 801.8,218.05 819.4,267.89 841.5,317.73 842.5,417.4 844,517.08 849.5,616.75 858.5,716.43 865.5,816.1" fill="none" stroke="#ff0000" stroke-width="2.6" stroke-linejoin="round" stroke-linecap="butt"/><polyline points="722.9,18.7 723.2,22.69 724.2,26.67 726.3,30.66 728.8,34.65 731.8,38.64 734.4,42.62 737.4,48.6 739.97,58.57 741.67,68.54 743.77,78.5 748.27,88.47 753.77,98.44 758.61,108.41 765.01,118.38 774.61,138.31 780.21,158.25 784.81,178.18 794.61,198.11 803.81,218.05 821.41,267.89 843.51,317.73 844.51,417.4 846.01,517.08 851.51,616.75 860.51,716.43 867.51,816.1" fill="none" stroke="#ff0000" stroke-width="2.6" stroke-linejoin="round" stroke-linecap="butt"/><polyline points="723.7,18.7 724,22.69 725,26.67 727.1,30.66 729.6,34.65 732.6,38.64 735.2,42.62 738.2,48.6 741.43,58.57 743.13,68.54 745.23,78.5 749.73,88.47 755.23,98.44 760.59,108.41 766.99,118.38 776.59,138.31 782.19,158.25 786.79,178.18 796.59,198.11 805.79,218.05 823.39,267.89 845.49,317.73 846.49,417.4 847.99,517.08 853.49,616.75 862.49,716.43 869.49,816.1" fill="none" stroke="#ff0000" stroke-width="2.6" stroke-linejoin="round" stroke-linecap="butt"/><polyline points="724.5,18.7 724.8,22.69 725.8,26.67 727.9,30.66 730.4,34.65 733.4,38.64 736,42.62 739,48.6 742.9,58.57 744.6,68.54 746.7,78.5 751.2,88.47 756.7,98.44 762.6,108.41 769,118.38 778.6,138.31 784.2,158.25 788.8,178.18 798.6,198.11 807.8,218.05 825.4,267.89 847.5,317.73 848.5,417.4 850,517.08 855.5,616.75 864.5,716.43 871.5,816.1" fill="none" stroke="#ff0000" stroke-width="2.6" stroke-linejoin="round" stroke-linecap="butt"/><g fill="#ff0000"><circle cx="723.3" cy="18.7" r="6.05"/><circle cx="723.6" cy="22.69" r="6.05"/><circle cx="724.6" cy="26.67" r="6.05"/><circle cx="726.7" cy="30.66" r="6.05"/><circle cx="729.2" cy="34.65" r="6.05"/><circle cx="732.2" cy="38.64" r="6.05"/><circle cx="734.8" cy="42.62" r="6.05"/><circle cx="737.8" cy="48.6" r="6.05"/><circle cx="740.7" cy="58.57" r="6.05"/><circle cx="742.4" cy="68.54" r="6.05"/><circle cx="744.5" cy="78.5" r="6.05"/><circle cx="749" cy="88.47" r="6.05"/><circle cx="754.5" cy="98.44" r="6.05"/><circle cx="759.6" cy="108.41" r="6.05"/><circle cx="766" cy="118.38" r="6.05"/><circle cx="775.6" cy="138.31" r="6.05"/><circle cx="781.2" cy="158.25" r="6.05"/><circle cx="785.8" cy="178.18" r="6.05"/><circle cx="795.6" cy="198.11" r="6.05"/><circle cx="804.8" cy="218.05" r="6.05"/><circle cx="822.4" cy="267.89" r="6.05"/><circle cx="844.5" cy="317.73" r="6.05"/><circle cx="845.5" cy="417.4" r="6.05"/><circle cx="847" cy="517.08" r="6.05"/><circle cx="852.5" cy="616.75" r="6.05"/><circle cx="861.5" cy="716.43" r="6.05"/><circle cx="868.5" cy="816.1" r="6.05"/></g>
<polyline points="696.6,18.7 696.6,22.69 696.6,26.67 696.6,30.66 696.8,34.65 698.2,38.64 699.2,42.62 700.2,48.6 702.5,58.57 705.6,68.54 708.6,78.5 711.7,88.47 715.7,98.44 720.3,108.41 727.8,118.38 740.5,138.31 752.2,158.25 762.3,178.18 772.4,198.11 782.4,218.05 805.4,267.89 815.5,317.73 832.4,417.4 843.6,517.08 848.5,616.75 854.4,716.43 861,816.1" fill="none" stroke="#008000" stroke-width="2.6" stroke-linejoin="round" stroke-linecap="butt"/><g fill="#008000"><circle cx="696.6" cy="18.7" r="6.05"/><circle cx="696.6" cy="22.69" r="6.05"/><circle cx="696.6" cy="26.67" r="6.05"/><circle cx="696.6" cy="30.66" r="6.05"/><circle cx="696.8" cy="34.65" r="6.05"/><circle cx="698.2" cy="38.64" r="6.05"/><circle cx="699.2" cy="42.62" r="6.05"/><circle cx="700.2" cy="48.6" r="6.05"/><circle cx="702.5" cy="58.57" r="6.05"/><circle cx="705.6" cy="68.54" r="6.05"/><circle cx="708.6" cy="78.5" r="6.05"/><circle cx="711.7" cy="88.47" r="6.05"/><circle cx="715.7" cy="98.44" r="6.05"/><circle cx="720.3" cy="108.41" r="6.05"/><circle cx="727.8" cy="118.38" r="6.05"/><circle cx="740.5" cy="138.31" r="6.05"/><circle cx="752.2" cy="158.25" r="6.05"/><circle cx="762.3" cy="178.18" r="6.05"/><circle cx="772.4" cy="198.11" r="6.05"/><circle cx="782.4" cy="218.05" r="6.05"/><circle cx="805.4" cy="267.89" r="6.05"/><circle cx="815.5" cy="317.73" r="6.05"/><circle cx="832.4" cy="417.4" r="6.05"/><circle cx="843.6" cy="517.08" r="6.05"/><circle cx="848.5" cy="616.75" r="6.05"/><circle cx="854.4" cy="716.43" r="6.05"/><circle cx="861" cy="816.1" r="6.05"/></g>
<polyline points="736.3,19.68 736.8,21.77 738.4,23.98 740.9,26.32 743.9,28.83 747.5,31.54 751.1,34.51 754.1,37.78 756.7,41.43 758.7,45.55 760.2,50.22 761.2,55.58 762.1,61.76 762.8,68.94 762.6,77.31 761.7,87.28 761.3,99.04 765.5,113.19 771.6,129.94 777.7,149.87 783.3,173.99 792.6,202.7 804.8,237.39 818.5,279.25 832.4,329.49 841.4,389.69 844.6,462.25 843.6,548.97 847.5,652.83 859.5,776.63" fill="none" stroke="#ff00ff" stroke-width="2.6" stroke-linejoin="round" stroke-linecap="butt"/><g fill="#ff00ff"><circle cx="736.3" cy="19.68" r="6.05"/><circle cx="736.8" cy="21.77" r="6.05"/><circle cx="738.4" cy="23.98" r="6.05"/><circle cx="740.9" cy="26.32" r="6.05"/><circle cx="743.9" cy="28.83" r="6.05"/><circle cx="747.5" cy="31.54" r="6.05"/><circle cx="751.1" cy="34.51" r="6.05"/><circle cx="754.1" cy="37.78" r="6.05"/><circle cx="756.7" cy="41.43" r="6.05"/><circle cx="758.7" cy="45.55" r="6.05"/><circle cx="760.2" cy="50.22" r="6.05"/><circle cx="761.2" cy="55.58" r="6.05"/><circle cx="762.1" cy="61.76" r="6.05"/><circle cx="762.8" cy="68.94" r="6.05"/><circle cx="762.6" cy="77.31" r="6.05"/><circle cx="761.7" cy="87.28" r="6.05"/><circle cx="761.3" cy="99.04" r="6.05"/><circle cx="765.5" cy="113.19" r="6.05"/><circle cx="771.6" cy="129.94" r="6.05"/><circle cx="777.7" cy="149.87" r="6.05"/><circle cx="783.3" cy="173.99" r="6.05"/><circle cx="792.6" cy="202.7" r="6.05"/><circle cx="804.8" cy="237.39" r="6.05"/><circle cx="818.5" cy="279.25" r="6.05"/><circle cx="832.4" cy="329.49" r="6.05"/><circle cx="841.4" cy="389.69" r="6.05"/><circle cx="844.6" cy="462.25" r="6.05"/><circle cx="843.6" cy="548.97" r="6.05"/><circle cx="847.5" cy="652.83" r="6.05"/><circle cx="859.5" cy="776.63" r="6.05"/></g>
</g>
<rect x="585.5" y="19.5" width="387" height="795" fill="none" stroke="#000" stroke-width="1.4"/>
<path d="M609.5 815.1v5.8M714.5 815.1v5.8M819.5 815.1v5.8M924.5 815.1v5.8M584.9 19.5h-5.8M584.9 68.5h-5.8M584.9 118.5h-5.8M584.9 168.5h-5.8M584.9 218.5h-5.8M584.9 268.5h-5.8M584.9 317.5h-5.8M584.9 367.5h-5.8M584.9 417.5h-5.8M584.9 467.5h-5.8M584.9 517.5h-5.8M584.9 566.5h-5.8M584.9 616.5h-5.8M584.9 666.5h-5.8M584.9 716.5h-5.8M584.9 766.5h-5.8" stroke="#000" stroke-width="1.4" fill="none"/>
<g font-size="16.67" text-anchor="middle">
<text transform="translate(609.5 841.9) scale(1 1.07)">33.0</text>
<text transform="translate(714.5 841.9) scale(1 1.07)">33.5</text>
<text transform="translate(819.5 841.9) scale(1 1.07)">34.0</text>
<text transform="translate(924.5 841.9) scale(1 1.07)">34.5</text>
</g>
</g>
<g id="panel3">
<path d="M1176.5 814.5V19.5M1272.5 814.5V19.5M1369.5 814.5V19.5M1466.5 814.5V19.5M1081.5 68.5H1469.5M1081.5 118.5H1469.5M1081.5 168.5H1469.5M1081.5 218.5H1469.5M1081.5 268.5H1469.5M1081.5 317.5H1469.5M1081.5 367.5H1469.5M1081.5 417.5H1469.5M1081.5 467.5H1469.5M1081.5 517.5H1469.5M1081.5 566.5H1469.5M1081.5 616.5H1469.5M1081.5 666.5H1469.5M1081.5 716.5H1469.5M1081.5 766.5H1469.5" stroke="#bcbcbc" stroke-width="1" stroke-dasharray="3.15 1.4" fill="none"/>
<g clip-path="url(#cp3)">
<path d="M1113.0 21.7h0M1112.2 23.3h0M1112.8 25.6h0M1112.2 27.7h0M1112.8 29.7h0M1114.3 31.3h0M1114.7 33.5h0M1115.6 35.5h0M1115.7 37.3h0M1117.1 39.4h0M1118.1 41.2h0M1119.0 43.2h0M1119.8 45.8h0M1120.3 47.6h0M1121.1 49.2h0M1122.2 51.5h0M1122.8 53.2h0M1122.8 55.3h0M1124.2 57.2h0M1123.9 59.4h0M1124.8 61.7h0M1125.9 63.3h0M1126.3 65.4h0M1126.8 67.6h0M1126.9 69.5h0M1128.4 71.5h0M1129.6 73.6h0M1130.5 75.5h0M1132.1 77.6h0M1133.4 79.3h0M1135.9 81.8h0M1138.3 83.7h0M1141.3 85.6h0M1143.0 87.6h0M1144.4 89.8h0M1144.9 91.6h0M1145.6 93.6h0M1146.1 95.5h0M1148.8 97.6h0M1151.7 99.3h0M1153.7 101.4h0M1156.9 103.5h0M1158.6 105.8h0M1161.2 107.7h0M1163.1 109.3h0M1165.2 111.3h0M1166.7 113.5h0M1167.9 115.8h0M1169.1 117.3h0M1169.8 119.6h0M1171.2 121.4h0M1172.3 123.4h0M1173.6 125.6h0M1174.1 127.5h0M1175.4 129.5h0M1176.7 131.7h0M1178.1 133.6h0M1178.6 135.5h0M1178.9 137.6h0M1179.9 139.4h0M1180.4 141.4h0M1180.8 143.5h0M1181.4 145.2h0M1181.5 147.4h0M1182.5 149.6h0M1183.5 151.8h0M1184.6 153.4h0M1186.3 155.5h0M1186.7 157.8h0M1187.5 159.2h0M1188.6 161.7h0M1189.8 163.7h0M1190.3 165.5h0M1190.8 167.3h0M1191.6 169.7h0M1192.4 171.8h0M1193.2 173.5h0M1193.6 175.5h0M1194.5 177.7h0M1194.3 179.7h0M1195.5 181.4h0M1196.2 183.5h0M1196.7 185.5h0M1197.2 187.8h0M1198.2 189.5h0M1198.3 191.6h0M1199.2 193.3h0M1199.7 195.4h0M1200.5 197.3h0M1200.8 199.4h0M1201.4 201.5h0M1202.7 203.6h0M1203.1 205.7h0M1203.5 207.5h0M1204.4 209.3h0M1205.1 211.8h0M1205.8 213.2h0M1206.4 215.3h0M1206.2 217.6h0M1207.0 219.3h0M1207.9 221.5h0M1208.4 223.5h0M1209.1 225.7h0M1209.9 227.6h0M1210.4 229.5h0M1210.6 231.3h0M1210.4 233.5h0M1211.5 235.3h0M1212.2 237.4h0M1212.1 239.5h0M1213.0 241.3h0M1212.6 243.6h0M1213.2 245.4h0M1213.3 247.8h0M1214.1 249.5h0M1214.3 251.8h0M1214.6 253.6h0M1215.0 255.5h0M1215.7 257.8h0M1216.2 259.7h0M1216.2 261.3h0M1217.7 263.4h0M1217.1 265.4h0M1217.8 267.5h0M1218.4 269.4h0M1219.0 271.5h0M1219.3 273.5h0M1220.2 275.5h0M1221.0 277.5h0M1220.9 279.8h0M1221.4 281.4h0M1222.3 283.4h0M1222.6 285.7h0M1223.2 287.5h0M1224.1 289.3h0M1224.4 291.3h0M1225.1 293.6h0M1225.9 295.8h0M1225.6 297.5h0M1226.8 299.4h0M1227.6 301.5h0M1228.1 303.2h0M1228.1 305.6h0M1229.1 307.5h0M1229.4 309.7h0M1229.2 311.6h0M1229.6 313.3h0M1230.3 315.7h0M1230.6 317.3h0M1230.7 319.2h0M1230.7 321.4h0M1231.0 323.4h0M1231.3 325.5h0M1231.8 327.6h0M1231.6 329.3h0M1232.0 331.4h0M1232.6 333.5h0M1233.4 335.8h0M1233.3 337.4h0M1233.9 339.2h0M1234.5 341.2h0M1234.8 343.6h0M1235.0 345.8h0M1235.3 347.2h0M1235.5 349.3h0M1236.6 351.6h0M1236.5 353.7h0M1236.7 355.3h0M1237.6 357.5h0M1238.2 359.4h0M1238.7 361.6h0M1238.8 363.5h0M1238.7 365.5h0M1239.9 367.2h0M1239.6 369.4h0M1239.9 371.7h0M1240.7 373.3h0M1241.1 375.7h0M1240.8 377.2h0M1241.7 379.7h0M1242.0 381.5h0M1242.2 383.5h0M1243.2 385.6h0M1243.3 387.5h0M1243.9 389.7h0M1243.8 391.4h0M1243.9 393.8h0M1244.7 395.2h0M1244.9 397.5h0M1245.3 399.4h0M1246.0 401.5h0M1246.3 403.4h0M1246.7 405.5h0M1246.7 407.5h0M1247.4 409.5h0M1247.3 411.4h0M1247.5 413.4h0M1247.8 415.4h0M1247.6 417.4h0M1247.9 419.6h0M1248.3 421.7h0M1248.8 423.4h0M1249.4 425.4h0M1249.9 427.4h0M1250.5 429.2h0M1249.9 431.7h0M1251.0 433.4h0M1251.4 435.4h0M1251.6 437.4h0M1252.0 439.6h0M1252.8 441.4h0M1252.8 443.5h0M1253.6 445.5h0M1253.9 447.8h0M1253.8 449.4h0M1254.7 451.5h0M1254.5 453.7h0M1254.9 455.5h0M1255.3 457.4h0M1255.3 459.2h0M1256.0 461.7h0M1256.3 463.8h0M1256.6 465.3h0M1256.5 467.8h0M1256.5 469.7h0M1257.6 471.3h0M1257.3 473.6h0M1258.0 475.2h0M1258.2 477.3h0M1258.9 479.5h0M1258.2 481.4h0M1258.5 483.7h0M1259.8 485.6h0M1259.1 487.8h0M1259.7 489.6h0M1260.6 491.5h0M1260.2 493.3h0M1261.2 495.3h0M1261.1 497.8h0M1261.5 499.3h0M1262.0 501.4h0M1262.5 503.4h0M1262.9 505.7h0M1262.5 507.5h0M1263.2 509.3h0M1264.1 511.4h0M1264.1 513.2h0M1264.9 515.8h0M1265.0 517.3h0M1265.4 519.5h0M1265.5 521.3h0M1265.6 523.7h0M1266.5 525.6h0M1267.0 527.4h0M1267.1 529.4h0M1267.5 531.5h0M1267.9 533.4h0M1267.8 535.2h0M1267.7 537.3h0M1267.9 539.5h0M1268.6 541.7h0M1268.6 543.8h0M1268.9 545.7h0M1269.5 547.3h0M1270.2 549.4h0M1269.9 551.3h0M1271.1 553.6h0M1271.8 555.4h0M1272.0 557.4h0M1272.1 559.4h0M1272.4 561.7h0M1272.6 563.5h0M1273.7 565.5h0M1274.0 567.5h0M1273.8 569.6h0M1274.5 571.4h0M1275.2 573.3h0M1275.3 575.6h0M1275.5 577.5h0M1275.8 579.2h0M1276.0 581.7h0M1276.1 583.6h0M1276.7 585.5h0M1277.1 587.5h0M1276.7 589.5h0M1277.7 591.3h0M1277.6 593.7h0M1277.5 595.7h0M1278.1 597.4h0M1278.8 599.5h0M1278.7 601.3h0M1279.1 603.7h0M1280.0 605.6h0M1280.0 607.6h0M1280.7 609.3h0M1280.2 611.7h0M1280.4 613.5h0M1281.2 615.8h0M1281.8 617.3h0M1281.6 619.5h0M1282.5 621.5h0M1282.9 623.2h0M1283.0 625.7h0M1283.3 627.3h0M1283.5 629.8h0M1284.6 631.4h0M1284.3 633.4h0M1285.3 635.7h0M1285.7 637.7h0M1285.7 639.3h0M1286.3 641.3h0M1286.5 643.4h0M1286.0 645.6h0M1286.6 647.7h0M1286.8 649.6h0M1287.4 651.2h0M1287.5 653.4h0M1288.4 655.7h0M1288.8 657.3h0M1288.3 659.4h0M1288.8 661.3h0M1289.5 663.2h0M1289.6 665.3h0M1289.7 667.4h0M1290.1 669.8h0M1290.8 671.5h0M1291.3 673.4h0M1290.8 675.6h0M1291.7 677.6h0M1291.7 679.6h0M1291.9 681.8h0M1292.6 683.7h0M1292.7 685.8h0M1293.0 687.8h0M1293.3 689.8h0M1293.5 691.5h0M1294.1 693.5h0M1294.7 695.7h0M1294.3 697.6h0M1295.0 699.4h0M1294.9 701.7h0M1296.2 703.6h0M1296.1 705.2h0M1296.1 707.4h0M1296.2 709.4h0M1296.8 711.4h0M1296.8 713.3h0M1298.1 715.5h0M1297.6 717.5h0M1298.0 719.5h0M1298.1 721.6h0M1299.3 723.6h0M1299.6 725.7h0M1299.5 727.5h0M1299.9 729.4h0M1299.6 731.5h0M1300.7 733.6h0M1300.1 735.7h0M1300.4 737.5h0M1300.9 739.4h0M1301.2 741.6h0M1302.1 743.7h0M1302.1 745.2h0M1301.9 747.3h0M1302.2 749.3h0M1302.6 751.3h0M1303.4 753.4h0M1303.2 755.7h0M1303.1 757.5h0M1303.2 759.5h0M1304.3 761.5h0M1303.9 763.6h0M1304.3 765.5h0M1304.7 767.6h0M1305.4 769.8h0M1305.8 771.7h0M1305.9 773.7h0M1305.7 775.3h0M1306.7 777.5h0M1306.2 779.6h0M1306.7 781.4h0M1307.9 783.3h0M1308.1 785.4h0M1308.4 787.4h0M1308.5 789.6h0M1309.0 791.3h0M1309.2 793.3h0M1309.1 795.7h0M1309.3 797.4h0M1309.5 799.5h0M1309.9 801.4h0M1311.1 803.5h0M1310.9 805.2h0M1310.7 807.3h0M1311.1 809.3h0M1310.6 811.3h0M1311.3 813.6h0M1310.8 815.4h0M1310.8 817.5h0M1106.5 21.3h0M1106.0 23.6h0M1106.2 25.6h0M1106.0 27.3h0M1106.2 29.7h0M1107.0 31.2h0M1107.1 33.6h0M1107.3 35.7h0M1107.4 37.5h0M1108.5 39.3h0M1109.4 41.5h0M1109.0 43.7h0M1109.4 45.6h0M1110.7 47.6h0M1110.8 49.2h0M1112.8 51.7h0M1113.3 53.8h0M1115.0 55.3h0M1116.1 57.2h0M1116.6 59.3h0M1117.6 61.5h0M1118.5 63.8h0M1119.8 65.6h0M1121.0 67.8h0M1122.1 69.5h0M1123.0 71.5h0M1123.4 73.3h0M1124.5 75.6h0M1124.8 77.8h0M1125.4 79.6h0M1125.6 81.4h0M1126.6 83.4h0M1127.6 85.8h0M1127.7 87.6h0M1128.6 89.7h0M1130.9 91.5h0M1132.3 93.6h0M1133.8 95.2h0M1136.1 97.5h0M1139.0 99.7h0M1141.0 101.3h0M1143.6 103.3h0M1145.7 105.5h0M1147.8 107.3h0M1148.8 109.5h0M1150.8 111.3h0M1152.6 113.5h0M1154.5 115.8h0M1155.5 117.3h0M1156.7 119.4h0M1157.8 121.2h0M1159.5 123.6h0M1160.6 125.3h0M1163.0 127.5h0M1164.3 129.3h0M1166.2 131.6h0M1167.3 133.3h0M1168.9 135.2h0M1169.7 137.7h0M1170.6 139.3h0M1171.8 141.8h0M1172.6 143.4h0M1174.0 145.2h0M1175.2 147.2h0M1176.2 149.4h0M1178.1 151.5h0M1178.6 153.4h0M1179.8 155.3h0M1181.0 157.6h0M1182.3 159.3h0M1183.2 161.7h0M1184.7 163.4h0M1186.2 165.8h0M1186.5 167.2h0M1187.4 169.7h0M1187.2 171.4h0M1188.7 173.5h0M1188.6 175.8h0M1189.3 177.3h0M1190.5 179.8h0M1191.1 181.2h0M1191.0 183.3h0M1192.3 185.8h0M1191.9 187.6h0M1192.3 189.2h0M1192.4 191.4h0M1191.9 193.7h0M1192.4 195.6h0M1192.3 197.6h0M1193.0 199.7h0M1194.4 201.6h0M1195.1 203.8h0M1196.0 205.6h0M1196.2 207.2h0M1197.5 209.2h0M1197.1 211.6h0M1198.8 213.5h0M1198.6 215.2h0M1199.2 217.4h0M1200.0 219.4h0M1201.2 221.8h0M1202.0 223.3h0M1202.3 225.3h0M1202.6 227.5h0M1203.0 229.7h0M1203.3 231.7h0M1204.3 233.6h0M1204.0 235.3h0M1205.2 237.8h0M1205.0 239.6h0M1206.0 241.7h0M1205.7 243.3h0M1206.1 245.6h0M1206.8 247.6h0M1207.0 249.6h0M1207.6 251.5h0M1208.4 253.8h0M1208.4 255.7h0M1208.7 257.3h0M1209.8 259.2h0M1210.4 261.7h0M1210.2 263.6h0M1211.1 265.8h0M1211.4 267.4h0M1212.3 269.4h0M1212.9 271.4h0M1212.9 273.7h0M1213.9 275.3h0M1214.3 277.8h0M1214.6 279.5h0M1215.4 281.6h0M1215.7 283.4h0M1216.0 285.6h0M1216.8 287.7h0M1217.0 289.7h0M1217.7 291.7h0M1218.9 293.4h0M1218.7 295.3h0M1219.3 297.8h0M1220.6 299.2h0M1220.2 301.5h0M1221.2 303.5h0M1222.2 305.7h0M1222.0 307.8h0M1222.7 309.5h0M1222.6 311.3h0M1222.9 313.4h0M1223.6 315.4h0M1223.6 317.3h0M1223.7 319.7h0M1224.4 321.5h0M1224.3 323.8h0M1224.5 325.7h0M1224.8 327.4h0M1225.7 329.5h0M1226.4 331.5h0M1226.8 333.2h0M1226.8 335.4h0M1227.4 337.5h0M1227.4 339.3h0M1227.8 341.2h0M1228.8 343.8h0M1229.2 345.3h0M1229.6 347.5h0M1229.7 349.7h0M1230.1 351.4h0M1230.2 353.3h0M1231.6 355.5h0M1231.8 357.5h0M1231.7 359.4h0M1232.3 361.4h0M1232.8 363.2h0M1233.0 365.3h0M1233.5 367.5h0M1234.4 369.7h0M1234.7 371.5h0M1234.5 373.7h0M1234.6 375.4h0M1235.0 377.7h0M1236.1 379.8h0M1235.9 381.7h0M1236.8 383.5h0M1236.9 385.7h0M1237.3 387.8h0M1238.2 389.4h0M1238.1 391.5h0M1238.9 393.7h0M1238.7 395.4h0M1239.0 397.6h0M1239.8 399.6h0M1240.0 401.6h0M1239.8 403.5h0M1240.9 405.6h0M1241.4 407.3h0M1241.8 409.8h0M1241.8 411.7h0M1241.7 413.3h0M1242.0 415.5h0M1243.0 417.4h0M1243.4 419.7h0M1242.7 421.2h0M1244.1 423.5h0M1244.1 425.7h0M1243.9 427.2h0M1244.9 429.8h0M1244.8 431.6h0M1244.8 433.8h0M1245.8 435.8h0M1246.3 437.4h0M1246.1 439.5h0M1247.3 441.5h0M1247.3 443.3h0M1247.3 445.3h0M1247.9 447.5h0M1248.9 449.4h0M1248.4 451.6h0M1249.5 453.3h0M1249.1 455.4h0M1249.2 457.3h0M1250.0 459.3h0M1250.0 461.7h0M1250.6 463.5h0M1251.1 465.6h0M1251.7 467.8h0M1251.1 469.6h0M1251.3 471.3h0M1251.8 473.3h0M1252.0 475.3h0M1253.1 477.7h0M1253.0 479.5h0M1253.6 481.6h0M1253.2 483.5h0M1253.6 485.5h0M1254.8 487.3h0M1254.4 489.5h0M1255.0 491.4h0M1255.1 493.5h0M1256.0 495.2h0M1256.2 497.5h0M1256.6 499.4h0M1256.6 501.2h0M1256.4 503.6h0M1256.9 505.5h0M1257.9 507.5h0M1258.0 509.5h0M1257.9 511.8h0M1258.4 513.2h0M1258.9 515.4h0M1259.0 517.5h0M1259.3 519.8h0M1260.2 521.4h0M1260.6 523.6h0M1260.8 525.7h0M1261.3 527.8h0M1261.9 529.6h0M1261.5 531.6h0M1262.7 533.7h0M1262.0 535.4h0M1262.2 537.6h0M1263.5 539.6h0M1263.5 541.5h0M1263.9 543.5h0M1264.3 545.3h0M1264.2 547.6h0M1264.2 549.5h0M1265.5 551.3h0M1265.7 553.6h0M1266.3 555.8h0M1266.4 557.6h0M1266.7 559.5h0M1267.2 561.4h0M1267.8 563.5h0M1267.8 565.5h0M1268.5 567.7h0M1268.9 569.6h0M1268.6 571.2h0M1268.8 573.3h0M1269.5 575.2h0M1269.8 577.7h0M1270.1 579.7h0M1270.3 581.5h0M1270.5 583.3h0M1271.2 585.3h0M1271.0 587.4h0M1272.0 589.8h0M1271.7 591.3h0M1272.8 593.5h0M1273.0 595.8h0M1273.1 597.3h0M1273.8 599.7h0M1273.0 601.8h0M1274.0 603.3h0M1274.1 605.4h0M1274.8 607.4h0M1274.4 609.7h0M1275.0 611.3h0M1275.8 613.3h0M1276.1 615.5h0M1275.9 617.8h0M1276.9 619.2h0M1277.5 621.6h0M1277.8 623.7h0M1277.5 625.4h0M1277.8 627.7h0M1279.0 629.5h0M1279.0 631.8h0M1279.2 633.5h0M1279.3 635.8h0M1279.4 637.3h0M1280.6 639.2h0M1280.2 641.5h0M1280.6 643.4h0M1280.7 645.6h0M1281.0 647.4h0M1281.4 649.6h0M1281.8 651.5h0M1281.9 653.5h0M1282.6 655.7h0M1282.7 657.4h0M1283.7 659.2h0M1283.6 661.5h0M1283.7 663.3h0M1284.2 665.2h0M1284.0 667.4h0M1284.7 669.4h0M1285.4 671.4h0M1285.6 673.6h0M1286.0 675.8h0M1286.2 677.6h0M1286.5 679.2h0M1287.1 681.5h0M1286.6 683.6h0M1287.4 685.8h0M1287.6 687.5h0M1288.5 689.8h0M1288.7 691.5h0M1288.6 693.6h0M1289.5 695.5h0M1289.6 697.5h0M1289.8 699.3h0M1289.8 701.4h0M1290.9 703.2h0M1290.4 705.3h0M1291.4 707.6h0M1291.1 709.3h0M1291.8 711.6h0M1292.1 713.6h0M1292.4 715.2h0M1292.9 717.7h0M1292.5 719.4h0M1293.8 721.8h0M1293.9 723.7h0M1293.5 725.7h0M1294.5 727.3h0M1294.9 729.7h0M1295.2 731.7h0M1294.6 733.3h0M1295.7 735.3h0M1295.5 737.7h0M1296.3 739.4h0M1296.2 741.6h0M1297.1 743.6h0M1296.7 745.3h0M1296.8 747.6h0M1297.6 749.3h0M1297.8 751.6h0M1297.9 753.5h0M1297.9 755.2h0M1298.2 757.6h0M1298.8 759.8h0M1298.8 761.3h0M1299.2 763.4h0M1299.6 765.8h0M1298.9 767.2h0M1299.2 769.6h0M1300.1 771.6h0M1300.2 773.6h0M1300.3 775.3h0M1301.4 777.3h0M1301.1 779.6h0M1302.4 781.8h0M1302.6 783.6h0M1302.0 785.3h0M1303.0 787.5h0M1303.6 789.2h0M1303.6 791.2h0M1304.1 793.3h0M1304.1 795.7h0M1305.0 797.7h0M1305.1 799.4h0M1305.2 801.5h0M1305.4 803.6h0M1305.6 805.4h0M1306.1 807.6h0M1306.3 809.8h0M1306.1 811.3h0M1305.8 813.5h0M1306.1 815.7h0M1305.5 817.2h0M1110.9 21.8h0M1110.5 23.6h0M1110.7 25.4h0M1111.1 27.6h0M1111.5 29.4h0M1111.3 31.5h0M1112.2 33.5h0M1112.6 35.8h0M1112.3 37.7h0M1113.3 39.5h0M1114.8 41.2h0M1115.9 43.6h0M1116.5 45.5h0M1117.1 47.3h0M1117.7 49.8h0M1118.8 51.5h0M1119.6 53.7h0M1120.3 55.4h0M1120.7 57.4h0M1120.9 59.8h0M1121.6 61.4h0M1123.2 63.4h0M1123.9 65.2h0M1123.8 67.5h0M1125.1 69.7h0M1126.3 71.7h0M1126.4 73.8h0M1127.1 75.5h0M1128.4 77.2h0M1129.1 79.8h0M1130.8 81.4h0M1131.8 83.6h0M1131.6 85.6h0M1132.7 87.4h0M1134.7 89.3h0M1136.2 91.2h0M1138.1 93.4h0M1139.8 95.3h0M1142.0 97.2h0M1144.5 99.4h0M1145.8 101.2h0M1148.2 103.3h0M1149.3 105.4h0M1152.1 107.8h0M1153.4 109.5h0M1154.5 111.7h0M1156.8 113.3h0M1158.4 115.3h0M1159.6 117.4h0M1161.3 119.4h0M1162.8 121.4h0M1163.8 123.3h0M1166.2 125.5h0M1167.4 127.6h0M1168.5 129.3h0M1169.8 131.7h0M1171.2 133.5h0M1172.2 135.4h0M1173.8 137.6h0M1174.7 139.4h0M1175.6 141.6h0M1176.7 143.7h0M1177.5 145.7h0M1178.7 147.5h0M1179.5 149.4h0M1181.1 151.2h0M1181.2 153.5h0M1182.5 155.6h0M1183.4 157.6h0M1184.1 159.3h0M1184.9 161.4h0M1185.1 163.5h0M1187.0 165.5h0M1187.6 167.6h0M1187.5 169.5h0M1189.1 171.6h0M1189.0 173.7h0M1190.0 175.8h0M1190.8 177.6h0M1191.0 179.5h0M1191.5 181.7h0M1191.9 183.8h0M1192.7 185.5h0M1193.6 187.4h0M1194.3 189.2h0M1195.2 191.3h0M1195.9 193.7h0M1196.5 195.7h0M1196.5 197.5h0M1197.0 199.6h0M1198.4 201.3h0M1198.7 203.3h0M1199.6 205.6h0M1199.6 207.6h0M1201.2 209.3h0M1201.8 211.4h0M1201.4 213.3h0M1202.9 215.3h0M1203.6 217.5h0M1203.4 219.7h0M1204.2 221.3h0M1204.5 223.4h0M1205.6 225.5h0M1206.4 227.2h0M1206.2 229.7h0M1207.1 231.6h0M1208.0 233.6h0M1208.2 235.3h0M1208.1 237.5h0M1209.3 239.8h0M1208.9 241.6h0M1209.4 243.4h0M1209.8 245.8h0M1210.3 247.5h0M1210.4 249.7h0M1210.9 251.7h0M1211.5 253.3h0M1211.7 255.4h0M1213.1 257.4h0M1212.9 259.6h0M1213.2 261.7h0M1214.4 263.7h0M1213.8 265.7h0M1215.1 267.7h0M1215.4 269.3h0M1216.0 271.5h0M1216.4 273.7h0M1216.6 275.4h0M1217.7 277.7h0M1218.6 279.7h0M1218.4 281.5h0M1219.2 283.5h0M1219.3 285.4h0M1220.7 287.4h0M1221.2 289.7h0M1221.4 291.8h0M1222.4 293.2h0M1222.5 295.8h0M1222.7 297.4h0M1223.1 299.7h0M1224.1 301.6h0M1224.6 303.7h0M1225.1 305.5h0M1225.6 307.4h0M1226.4 309.6h0M1226.2 311.3h0M1226.6 313.2h0M1226.7 315.3h0M1226.9 317.3h0M1227.0 319.5h0M1227.2 321.4h0M1228.1 323.3h0M1228.6 325.4h0M1228.1 327.7h0M1228.7 329.4h0M1228.7 331.3h0M1230.2 333.5h0M1230.0 335.6h0M1230.1 337.3h0M1231.3 339.6h0M1231.1 341.7h0M1231.5 343.5h0M1232.5 345.7h0M1232.3 347.8h0M1232.7 349.4h0M1233.4 351.5h0M1233.8 353.5h0M1234.5 355.4h0M1234.5 357.6h0M1235.4 359.4h0M1235.2 361.5h0M1235.5 363.5h0M1236.6 365.3h0M1236.9 367.7h0M1236.9 369.4h0M1236.8 371.5h0M1238.0 373.4h0M1237.7 375.7h0M1238.0 377.5h0M1239.0 379.5h0M1238.9 381.6h0M1239.3 383.6h0M1240.2 385.7h0M1240.5 387.3h0M1240.3 389.6h0M1241.1 391.7h0M1241.2 393.2h0M1241.2 395.2h0M1242.1 397.4h0M1241.9 399.7h0M1242.3 401.4h0M1243.4 403.6h0M1243.2 405.8h0M1243.8 407.7h0M1244.1 409.6h0M1245.0 411.2h0M1244.8 413.6h0M1245.6 415.6h0M1245.1 417.3h0M1245.7 419.3h0M1245.8 421.8h0M1245.9 423.3h0M1246.8 425.5h0M1247.3 427.4h0M1247.6 429.4h0M1248.2 431.8h0M1247.7 433.4h0M1248.4 435.5h0M1248.9 437.6h0M1248.8 439.6h0M1250.0 441.4h0M1249.8 443.4h0M1250.5 445.3h0M1250.5 447.4h0M1251.3 449.6h0M1251.5 451.3h0M1251.6 453.2h0M1252.6 455.5h0M1252.7 457.3h0M1252.4 459.3h0M1252.9 461.6h0M1253.4 463.4h0M1253.2 465.4h0M1254.2 467.3h0M1254.8 469.7h0M1254.2 471.2h0M1255.2 473.2h0M1255.3 475.5h0M1255.3 477.5h0M1255.2 479.7h0M1256.4 481.2h0M1256.1 483.7h0M1256.3 485.3h0M1257.3 487.8h0M1257.8 489.3h0M1257.2 491.2h0M1257.5 493.4h0M1258.7 495.7h0M1258.2 497.4h0M1258.9 499.3h0M1258.6 501.3h0M1259.2 503.2h0M1260.3 505.8h0M1260.1 507.5h0M1260.5 509.7h0M1260.8 511.8h0M1261.8 513.4h0M1261.7 515.8h0M1261.8 517.8h0M1262.4 519.6h0M1262.4 521.4h0M1263.4 523.3h0M1264.1 525.4h0M1264.1 527.7h0M1264.1 529.6h0M1264.8 531.7h0M1264.7 533.4h0M1265.2 535.5h0M1265.4 537.5h0M1266.0 539.3h0M1265.7 541.3h0M1266.3 543.3h0M1267.1 545.3h0M1266.9 547.7h0M1267.1 549.2h0M1267.4 551.6h0M1268.0 553.8h0M1268.2 555.4h0M1268.9 557.4h0M1269.1 559.3h0M1269.8 561.6h0M1270.0 563.8h0M1270.7 565.4h0M1270.8 567.4h0M1270.8 569.5h0M1271.6 571.7h0M1271.4 573.2h0M1272.6 575.4h0M1272.7 577.7h0M1272.6 579.3h0M1273.4 581.4h0M1273.4 583.2h0M1273.8 585.5h0M1273.7 587.3h0M1274.8 589.7h0M1274.4 591.4h0M1274.8 593.4h0M1275.1 595.8h0M1275.0 597.4h0M1275.9 599.6h0M1276.0 601.6h0M1276.4 603.3h0M1277.2 605.3h0M1277.3 607.8h0M1277.1 609.7h0M1278.2 611.4h0M1278.7 613.3h0M1278.6 615.8h0M1279.0 617.7h0M1279.2 619.6h0M1279.7 621.6h0M1280.3 623.6h0M1280.7 625.3h0M1281.0 627.7h0M1281.4 629.3h0M1281.5 631.2h0M1282.3 633.6h0M1281.9 635.6h0M1282.3 637.5h0M1283.1 639.7h0M1283.7 641.6h0M1283.5 643.5h0M1283.4 645.2h0M1284.5 647.8h0M1284.8 649.3h0M1284.9 651.3h0M1284.8 653.7h0M1285.8 655.2h0M1285.9 657.6h0M1286.2 659.3h0M1286.1 661.6h0M1286.2 663.3h0M1286.8 665.3h0M1286.9 667.3h0M1287.1 669.3h0M1287.7 671.4h0M1287.7 673.3h0M1288.3 675.2h0M1288.5 677.2h0M1289.3 679.3h0M1289.3 681.3h0M1289.8 683.8h0M1290.2 685.3h0M1289.9 687.3h0M1291.0 689.3h0M1291.2 691.7h0M1291.6 693.5h0M1291.5 695.4h0M1292.1 697.5h0M1292.5 699.5h0M1293.0 701.6h0M1292.7 703.5h0M1293.0 705.7h0M1293.1 707.4h0M1293.8 709.6h0M1293.8 711.6h0M1294.1 713.4h0M1294.6 715.2h0M1295.7 717.2h0M1295.9 719.6h0M1296.3 721.6h0M1296.1 723.5h0M1296.5 725.4h0M1296.4 727.6h0M1297.3 729.8h0M1297.8 731.6h0M1297.3 733.5h0M1297.5 735.7h0M1298.5 737.4h0M1298.3 739.7h0M1298.8 741.2h0M1299.3 743.5h0M1299.0 745.7h0M1299.4 747.3h0M1299.9 749.3h0M1299.9 751.5h0M1300.8 753.6h0M1300.5 755.7h0M1301.2 757.8h0M1300.4 759.7h0M1301.5 761.6h0M1301.6 763.6h0M1301.3 765.8h0M1302.2 767.3h0M1302.3 769.3h0M1302.3 771.6h0M1302.5 773.2h0M1303.4 775.6h0M1304.1 777.2h0M1303.8 779.3h0M1304.8 781.7h0M1304.3 783.5h0M1305.3 785.6h0M1305.4 787.5h0M1305.4 789.2h0M1305.6 791.5h0M1305.9 793.7h0M1306.4 795.2h0M1307.1 797.6h0M1307.5 799.5h0M1308.0 801.6h0M1308.4 803.7h0M1307.9 805.5h0M1308.0 807.6h0M1308.2 809.5h0M1308.2 811.3h0M1308.4 813.6h0M1308.1 815.3h0M1308.4 817.6h0" fill="none" stroke="#00ffff" stroke-width="6" stroke-linecap="round"/>
<polyline points="1111.3,28.67 1117.6,48.6 1124.5,68.54 1133.4,88.47 1152.5,108.41 1168,128.34 1179.3,148.28 1187.5,168.21 1193.6,188.15 1200.2,208.08 1206.3,228.02 1210.4,247.95 1214.7,267.89 1220.2,287.82 1225.5,307.76 1228.3,327.69 1232.4,347.63 1236.3,367.56 1240,387.5 1243.6,407.43 1246.6,427.37 1250.5,447.3 1253.6,467.24 1256.6,487.17 1259.7,507.11 1263.6,527.04 1266.5,546.98 1270.5,566.91 1273.6,586.85 1276.6,606.78 1280.3,626.72 1283.6,646.65 1286.6,666.59 1289.7,686.52 1293,706.46 1296.1,726.39 1299.1,746.33 1301.2,766.26 1304.7,786.2 1307.8,806.13" fill="none" stroke="#0000ff" stroke-width="2.6" stroke-linejoin="round" stroke-linecap="butt"/><g fill="#0000ff"><circle cx="1111.3" cy="28.67" r="6.05"/><circle cx="1117.6" cy="48.6" r="6.05"/><circle cx="1124.5" cy="68.54" r="6.05"/><circle cx="1133.4" cy="88.47" r="6.05"/><circle cx="1152.5" cy="108.41" r="6.05"/><circle cx="1168" cy="128.34" r="6.05"/><circle cx="1179.3" cy="148.28" r="6.05"/><circle cx="1187.5" cy="168.21" r="6.05"/><circle cx="1193.6" cy="188.15" r="6.05"/><circle cx="1200.2" cy="208.08" r="6.05"/><circle cx="1206.3" cy="228.02" r="6.05"/><circle cx="1210.4" cy="247.95" r="6.05"/><circle cx="1214.7" cy="267.89" r="6.05"/><circle cx="1220.2" cy="287.82" r="6.05"/><circle cx="1225.5" cy="307.76" r="6.05"/><circle cx="1228.3" cy="327.69" r="6.05"/><circle cx="1232.4" cy="347.63" r="6.05"/><circle cx="1236.3" cy="367.56" r="6.05"/><circle cx="1240" cy="387.5" r="6.05"/><circle cx="1243.6" cy="407.43" r="6.05"/><circle cx="1246.6" cy="427.37" r="6.05"/><circle cx="1250.5" cy="447.3" r="6.05"/><circle cx="1253.6" cy="467.24" r="6.05"/><circle cx="1256.6" cy="487.17" r="6.05"/><circle cx="1259.7" cy="507.11" r="6.05"/><circle cx="1263.6" cy="527.04" r="6.05"/><circle cx="1266.5" cy="546.98" r="6.05"/><circle cx="1270.5" cy="566.91" r="6.05"/><circle cx="1273.6" cy="586.85" r="6.05"/><circle cx="1276.6" cy="606.78" r="6.05"/><circle cx="1280.3" cy="626.72" r="6.05"/><circle cx="1283.6" cy="646.65" r="6.05"/><circle cx="1286.6" cy="666.59" r="6.05"/><circle cx="1289.7" cy="686.52" r="6.05"/><circle cx="1293" cy="706.46" r="6.05"/><circle cx="1296.1" cy="726.39" r="6.05"/><circle cx="1299.1" cy="746.33" r="6.05"/><circle cx="1301.2" cy="766.26" r="6.05"/><circle cx="1304.7" cy="786.2" r="6.05"/><circle cx="1307.8" cy="806.13" r="6.05"/></g>
<polyline points="1138.5,18.7 1139.5,22.69 1143.6,26.67 1148.7,30.66 1153.8,34.65 1157.8,38.64 1160.9,42.62 1163.5,48.6 1165.1,58.57 1167.1,68.54 1169.4,78.5 1171.9,88.47 1174.3,98.44 1178.2,108.41 1180.8,118.38 1185.4,138.31 1190,158.25 1194.6,178.18 1200.6,198.11 1206.2,218.05 1219.4,267.89 1234.9,317.73 1247.4,417.4 1258.7,517.08 1272.9,616.75 1289.9,716.43 1302.3,816.1" fill="none" stroke="#ff0000" stroke-width="2.6" stroke-linejoin="round" stroke-linecap="butt"/><polyline points="1139.51,18.7 1140.51,22.69 1144.61,26.67 1149.71,30.66 1154.81,34.65 1158.81,38.64 1161.91,42.62 1164.51,48.6 1166.57,58.57 1168.57,68.54 1170.87,78.5 1173.37,88.47 1175.77,98.44 1179.67,108.41 1182.54,118.38 1187.14,138.31 1191.74,158.25 1196.34,178.18 1202.34,198.11 1207.94,218.05 1221.14,267.89 1236.64,317.73 1249.14,417.4 1258.7,517.08 1272.9,616.75 1289.9,716.43 1302.3,816.1" fill="none" stroke="#ff0000" stroke-width="2.6" stroke-linejoin="round" stroke-linecap="butt"/><polyline points="1140.49,18.7 1141.49,22.69 1145.59,26.67 1150.69,30.66 1155.79,34.65 1159.79,38.64 1162.89,42.62 1165.49,48.6 1168.03,58.57 1170.03,68.54 1172.33,78.5 1174.83,88.47 1177.23,98.44 1181.13,108.41 1184.26,118.38 1188.86,138.31 1193.46,158.25 1198.06,178.18 1204.06,198.11 1209.66,218.05 1222.86,267.89 1238.36,317.73 1250.86,417.4 1262.7,517.08 1279.7,616.75 1296.7,716.43 1308.7,816.1" fill="none" stroke="#ff0000" stroke-width="2.6" stroke-linejoin="round" stroke-linecap="butt"/><polyline points="1141.5,18.7 1142.5,22.69 1146.6,26.67 1151.7,30.66 1156.8,34.65 1160.8,38.64 1163.9,42.62 1166.5,48.6 1169.5,58.57 1171.5,68.54 1173.8,78.5 1176.3,88.47 1178.7,98.44 1182.6,108.41 1186,118.38 1190.6,138.31 1195.2,158.25 1199.8,178.18 1205.8,198.11 1211.4,218.05 1224.6,267.89 1240.1,317.73 1252.6,417.4 1262.7,517.08 1279.7,616.75 1296.7,716.43 1308.7,816.1" fill="none" stroke="#ff0000" stroke-width="2.6" stroke-linejoin="round" stroke-linecap="butt"/><g fill="#ff0000"><circle cx="1140" cy="18.7" r="6.05"/><circle cx="1141" cy="22.69" r="6.05"/><circle cx="1145.1" cy="26.67" r="6.05"/><circle cx="1150.2" cy="30.66" r="6.05"/><circle cx="1155.3" cy="34.65" r="6.05"/><circle cx="1159.3" cy="38.64" r="6.05"/><circle cx="1162.4" cy="42.62" r="6.05"/><circle cx="1165" cy="48.6" r="6.05"/><circle cx="1167.3" cy="58.57" r="6.05"/><circle cx="1169.3" cy="68.54" r="6.05"/><circle cx="1171.6" cy="78.5" r="6.05"/><circle cx="1174.1" cy="88.47" r="6.05"/><circle cx="1176.5" cy="98.44" r="6.05"/><circle cx="1180.4" cy="108.41" r="6.05"/><circle cx="1183.4" cy="118.38" r="6.05"/><circle cx="1188" cy="138.31" r="6.05"/><circle cx="1192.6" cy="158.25" r="6.05"/><circle cx="1197.2" cy="178.18" r="6.05"/><circle cx="1203.2" cy="198.11" r="6.05"/><circle cx="1208.8" cy="218.05" r="6.05"/><circle cx="1222" cy="267.89" r="6.05"/><circle cx="1237.5" cy="317.73" r="6.05"/><circle cx="1250" cy="417.4" r="6.05"/><circle cx="1260.7" cy="517.08" r="6.05"/><circle cx="1276.3" cy="616.75" r="6.05"/><circle cx="1293.3" cy="716.43" r="6.05"/><circle cx="1305.5" cy="816.1" r="6.05"/></g>
<polyline points="1123.9,18.7 1123.9,22.69 1124,26.67 1124.8,30.66 1129.8,34.65 1136,38.64 1139.5,42.62 1141.9,48.6 1144.6,58.57 1147.7,68.54 1150.5,78.5 1153.4,88.47 1156.5,98.44 1161.5,108.41 1166.6,118.38 1176.5,138.31 1184.6,158.25 1191.2,178.18 1197.1,198.11 1202,218.05 1216.3,267.89 1225.3,317.73 1244.1,417.4 1263,517.08 1279.2,616.75 1294.2,716.43 1308.1,816.1" fill="none" stroke="#008000" stroke-width="2.6" stroke-linejoin="round" stroke-linecap="butt"/><g fill="#008000"><circle cx="1123.9" cy="18.7" r="6.05"/><circle cx="1123.9" cy="22.69" r="6.05"/><circle cx="1124" cy="26.67" r="6.05"/><circle cx="1124.8" cy="30.66" r="6.05"/><circle cx="1129.8" cy="34.65" r="6.05"/><circle cx="1136" cy="38.64" r="6.05"/><circle cx="1139.5" cy="42.62" r="6.05"/><circle cx="1141.9" cy="48.6" r="6.05"/><circle cx="1144.6" cy="58.57" r="6.05"/><circle cx="1147.7" cy="68.54" r="6.05"/><circle cx="1150.5" cy="78.5" r="6.05"/><circle cx="1153.4" cy="88.47" r="6.05"/><circle cx="1156.5" cy="98.44" r="6.05"/><circle cx="1161.5" cy="108.41" r="6.05"/><circle cx="1166.6" cy="118.38" r="6.05"/><circle cx="1176.5" cy="138.31" r="6.05"/><circle cx="1184.6" cy="158.25" r="6.05"/><circle cx="1191.2" cy="178.18" r="6.05"/><circle cx="1197.1" cy="198.11" r="6.05"/><circle cx="1202" cy="218.05" r="6.05"/><circle cx="1216.3" cy="267.89" r="6.05"/><circle cx="1225.3" cy="317.73" r="6.05"/><circle cx="1244.1" cy="417.4" r="6.05"/><circle cx="1263" cy="517.08" r="6.05"/><circle cx="1279.2" cy="616.75" r="6.05"/><circle cx="1294.2" cy="716.43" r="6.05"/><circle cx="1308.1" cy="816.1" r="6.05"/></g>
<polyline points="1136.5,19.68 1137,21.77 1138.5,23.98 1141.5,26.32 1145.1,28.83 1149.2,31.54 1152.7,34.51 1156.3,37.78 1159.9,41.43 1162.6,45.55 1164.9,50.22 1167,55.58 1168.7,61.76 1170.3,68.94 1173.1,77.31 1175.4,87.28 1179.3,99.04 1184.4,113.19 1189.5,129.94 1194.6,149.87 1199.7,173.99 1206.5,202.7 1213.6,237.39 1221.7,279.25 1230.6,329.49 1240.3,389.69 1251.6,462.25 1264.4,548.97 1280.3,652.83 1300.4,776.63" fill="none" stroke="#ff00ff" stroke-width="2.6" stroke-linejoin="round" stroke-linecap="butt"/><g fill="#ff00ff"><circle cx="1136.5" cy="19.68" r="6.05"/><circle cx="1137" cy="21.77" r="6.05"/><circle cx="1138.5" cy="23.98" r="6.05"/><circle cx="1141.5" cy="26.32" r="6.05"/><circle cx="1145.1" cy="28.83" r="6.05"/><circle cx="1149.2" cy="31.54" r="6.05"/><circle cx="1152.7" cy="34.51" r="6.05"/><circle cx="1156.3" cy="37.78" r="6.05"/><circle cx="1159.9" cy="41.43" r="6.05"/><circle cx="1162.6" cy="45.55" r="6.05"/><circle cx="1164.9" cy="50.22" r="6.05"/><circle cx="1167" cy="55.58" r="6.05"/><circle cx="1168.7" cy="61.76" r="6.05"/><circle cx="1170.3" cy="68.94" r="6.05"/><circle cx="1173.1" cy="77.31" r="6.05"/><circle cx="1175.4" cy="87.28" r="6.05"/><circle cx="1179.3" cy="99.04" r="6.05"/><circle cx="1184.4" cy="113.19" r="6.05"/><circle cx="1189.5" cy="129.94" r="6.05"/><circle cx="1194.6" cy="149.87" r="6.05"/><circle cx="1199.7" cy="173.99" r="6.05"/><circle cx="1206.5" cy="202.7" r="6.05"/><circle cx="1213.6" cy="237.39" r="6.05"/><circle cx="1221.7" cy="279.25" r="6.05"/><circle cx="1230.6" cy="329.49" r="6.05"/><circle cx="1240.3" cy="389.69" r="6.05"/><circle cx="1251.6" cy="462.25" r="6.05"/><circle cx="1264.4" cy="548.97" r="6.05"/><circle cx="1280.3" cy="652.83" r="6.05"/><circle cx="1300.4" cy="776.63" r="6.05"/></g>
</g>
<rect x="1081.5" y="19.5" width="388" height="795" fill="none" stroke="#000" stroke-width="1.4"/>
<path d="M1176.5 815.1v5.8M1272.5 815.1v5.8M1369.5 815.1v5.8M1466.5 815.1v5.8M1080.9 19.5h-5.8M1080.9 68.5h-5.8M1080.9 118.5h-5.8M1080.9 168.5h-5.8M1080.9 218.5h-5.8M1080.9 268.5h-5.8M1080.9 317.5h-5.8M1080.9 367.5h-5.8M1080.9 417.5h-5.8M1080.9 467.5h-5.8M1080.9 517.5h-5.8M1080.9 566.5h-5.8M1080.9 616.5h-5.8M1080.9 666.5h-5.8M1080.9 716.5h-5.8M1080.9 766.5h-5.8" stroke="#000" stroke-width="1.4" fill="none"/>
<g font-size="16.67" text-anchor="middle">
<text transform="translate(1175.5 850) rotate(-45)" x="0" y="6.1">1026</text>
<text transform="translate(1271.5 850) rotate(-45)" x="0" y="6.1">1028</text>
<text transform="translate(1368.5 850) rotate(-45)" x="0" y="6.1">1030</text>
<text transform="translate(1465.5 850) rotate(-45)" x="0" y="6.1">1032</text>
</g>
</g>
<g font-size="22.65" font-weight="bold" text-anchor="middle">
<text transform="translate(30.5 418.8) rotate(-90)">Depth (m)</text>
<text x="281.6" y="872.2" font-size="23" text-anchor="middle">Temperature (<tspan font-weight="normal" font-style="italic" font-size="16.2" dy="-8.6">o</tspan><tspan font-weight="normal" font-style="italic" font-size="23.3" dy="8.6">C</tspan>)</text>
<text x="779.1" y="869.7" style="letter-spacing:-0.17px">Salinity</text>
<text x="1275.7" y="896" style="letter-spacing:-0.07px">Density (kg m-3)</text>
</g>
<text transform="translate(423.6 917.7) scale(1 1.04)" font-size="17.37" font-style="italic" xml:space="preserve">Ocean Heat Content (kJ/cm^2) - Glider: N/A,  RTOFS: N/A,  ESPC: N/A,  CMEMS: N/A, </text>
<g font-size="22.65" font-weight="bold">
<text x="1539.7" y="36.2">Comparison Date: 2025-04-17</text>
<text x="1539.7" y="89.8">Glider: sp055</text>
<text x="1539.7" y="116.3">Profiles: 3</text>
<text x="1539.7" y="143">First: 2025-04-17 12:43:00</text>
<text x="1539.7" y="169.6">Last: 2025-04-17 21:09:15</text>
<text x="1539.7" y="196.3">Method: Nearest-Neighbor</text>
</g>
<g id="map">
<g clip-path="url(#cpm)">
<rect x="1609.7" y="260.8" width="325.7" height="311.3" fill="#6495ed"/>
<rect x="1920" y="330" width="16" height="100" fill="#b0c4de"/>
<polygon points="1608.59,261.14 1698.56,261.14 1703.7,265.64 1706.92,269.5 1707.88,273.35 1707.88,276.05 1704.99,274.64 1702.42,275.92 1698.56,274.64 1695.99,275.28 1692.13,274.64 1688.92,275.28 1685.71,274.64 1683.14,275.92 1679.28,277.21 1676.07,275.92 1671.57,270.01 1608.59,270.01" fill="#97b6e1"/>
<polygon points="1685.06,270.27 1690.85,270.46 1688.92,273.67" fill="#6495ed"/>
<polygon points="1678.32,270.46 1679.92,270.46 1679.28,273.99 1678.32,273.67" fill="#6495ed"/>
<polygon points="1695.99,272.07 1698.56,272.39 1697.92,274.77 1696.31,274.32" fill="#6495ed"/>
<polygon points="1684.42,273.35 1687.63,273.03 1688.28,277.21 1685.71,278.49 1683.78,276.57" fill="#b0c4de"/>
<polygon points="1675.42,277.53 1681.21,276.57 1681.85,279.14 1679.28,280.74 1676.07,279.14" fill="#97b6e1"/>
<polygon points="1685.06,281.71 1688.28,282.99 1693.42,281.06 1697.92,281.71 1698.56,284.28 1694.7,284.92 1690.85,286.21 1688.28,284.92 1685.71,283.63" fill="#97b6e1"/>
<polygon points="1685.71,290.06 1688.92,288.13 1692.13,290.7 1695.99,292.63 1698.56,294.56 1694.7,294.56 1690.85,293.92 1686.99,293.28" fill="#97b6e1"/>
<polygon points="1701.77,288.13 1707.56,287.81 1711.41,289.42 1710.77,291.03 1704.99,290.06 1702.1,289.42" fill="#97b6e1"/>
<polygon points="1699.85,283.63 1701.77,283.63 1702.42,286.85 1700.49,286.85" fill="#97b6e1"/>
<polygon points="1695.03,289.1 1699.85,289.42 1699.2,291.67 1696.63,291.35" fill="#97b6e1"/>
<polygon points="1683.78,284.28 1685.06,284.28 1686.35,288.13 1685.39,288.78" fill="#97b6e1"/>
<polygon points="1698.56,298.42 1700.17,298.54 1699.97,300.34 1698.69,300.22" fill="#97b6e1"/>
<polygon points="1706.92,300.34 1708.84,299.7 1709.16,302.59 1707.24,302.92" fill="#97b6e1"/>
<polygon points="1703.06,305.81 1704.34,306.13 1704.99,308.7 1703.7,308.38" fill="#97b6e1"/>
<polygon points="1675.1,306.77 1677.03,306.13 1677.22,308.06 1675.3,308.06" fill="#97b6e1"/>
<polygon points="1715.27,305.49 1716.88,305.16 1717.2,308.7 1715.59,308.38" fill="#97b6e1"/>
<polygon points="1710.13,293.28 1714.63,292.31 1716.88,297.13 1718.16,302.27 1716.23,303.56 1714.31,298.42" fill="#97b6e1"/>
<polygon points="1715.27,298.42 1717.84,297.77 1719.45,302.27 1717.2,303.56" fill="#b0c4de"/>
<polyline points="1709.15,275.78 1710.87,280.08 1713.45,285.24 1714.07,290 1717.5,294.3 1719.65,299.45 1721.8,303.75 1723.95,308.05 1724.38,312.35 1727.82,314.5 1732.11,317.07 1736.41,320.94 1739.85,325.24 1742.86,328.68 1743.72,332.97 1742.43,335.55 1744.15,338.13 1743.29,340.28 1740.71,338.99 1738.13,337.27 1733.83,337.7 1730.83,335.98 1730.4,337.7 1732.97,339.42 1736.41,341.57 1739.85,345.01 1745.01,348.44 1749.3,350.59 1753.17,349.3 1754.03,351.88 1757.9,355.32 1762.2,358.76 1764.77,362.2 1764.38,360 1766.1,365.16 1765.67,370.31 1763.95,374.61 1766.96,378.05 1771.25,381.06 1776.41,384.07 1780.71,387.5 1785.01,390.08 1787.58,393.52 1788.44,396.96 1790.16,399.11" fill="none" stroke="#97b6e1" stroke-width="7.5" stroke-linejoin="round" stroke-linecap="round"/>
<polygon points="1711.24,314.28 1716.06,314.28 1720.34,319.64 1723.02,326.06 1721.41,327.67 1718.2,321.78 1713.92,317.49" fill="#97b6e1"/>
<polygon points="1723.02,310 1719.27,311.07 1724.63,317.49 1725.7,324.99 1724.09,330.34 1724.63,334.63 1731.05,341.05 1736.4,343.19 1742.83,348.54 1748.18,350.15 1743.9,346.94 1739.61,344.26 1736.4,341.05 1732.12,337.84 1735.33,338.91 1740.69,338.37 1741.76,336.23 1743.9,333.02 1742.83,328.2 1739.61,323.92 1735.33,319.64 1731.05,316.42 1725.7,313.75" fill="#97b6e1"/>
<polygon points="1726.77,323.92 1732.12,322.85 1737.47,326.06 1741.76,330.34 1742.83,334.63 1739.61,337.3 1734.26,337.3 1731.05,333.02 1732.12,329.27 1727.84,327.13" fill="#b0c4de"/>
<polygon points="1742.83,350.69 1744.97,357.11 1748.18,363.53 1752.46,369.96 1757.82,376.38 1763.17,382.81 1768.52,388.16 1774.95,392.44 1781.37,395.65 1786.72,398.87 1791.01,400.79 1796.36,399.4 1797.43,395.65 1789.94,399.4 1788.33,396.72 1786.72,392.44 1783.51,389.23 1779.23,386.02 1774.95,382.81 1770.66,379.59 1766.38,377.45 1763.7,374.24 1765.31,371.03 1765.85,365.67 1764.78,360.32 1761.56,357.11 1757.82,353.9 1754.07,351.22 1750.32,350.15 1748.18,350.15" fill="#97b6e1"/>
<polygon points="1746.04,352.83 1750.32,357.11 1753.53,363.53 1757.82,369.96 1762.63,375.31 1764.24,369.96 1764.78,361.39 1761.56,357.11 1757.82,353.9 1753.53,351.76" fill="#b0c4de"/>
<polygon points="1766.38,378.52 1772.81,383.88 1779.23,388.16 1784.58,392.44 1782.44,393.51 1774.95,388.16 1768.52,382.81" fill="#b0c4de"/>
<polygon points="1760.48,339.85 1757.9,336.41 1757.04,331.25 1755.32,327.82 1752.74,325.24 1749.3,322.66 1748.44,319.22 1745.87,316.21 1741.57,312.78 1738.13,309.77 1736.84,305.47 1735.55,299.45 1733.83,294.3 1734.26,290 1734.08,285.24 1739.24,287.82 1744.39,288.25 1747.83,291.25 1750.16,292.58 1754.03,293.87 1754.46,297.74 1756.18,302.03 1757.9,306.33 1759.62,310.63 1762.2,314.92 1764.34,319.22 1765.63,323.52 1769.07,326.1 1772.51,330.4 1775.95,334.69 1780.24,336.41 1783.25,337.27" fill="#97b6e1"/>
<polygon points="1755.32,327.82 1752.74,325.24 1749.3,322.66 1748.44,319.22 1745.87,316.21 1741.57,312.78 1738.13,309.77 1736.84,305.47 1735.55,299.45 1733.83,294.3 1734.26,290 1734.08,285.24 1739.24,287.82 1744.39,288.25 1747.83,291.25 1750.16,292.58 1754.03,293.87 1754.46,297.74 1756.18,302.03 1757.9,306.33 1759.62,310.63 1762.2,314.92 1764.34,319.22 1765.63,323.52" fill="#b0c4de"/>
<polygon points="1740.71,300.31 1745.01,299.45 1748.44,307.19 1751.88,312.35 1755.32,318.36 1753.6,320.08 1749.3,314.07 1745.01,309.77 1741.57,305.47" fill="#97b6e1"/>
<polyline points="1775.95,334.69 1780.24,336.41 1783.25,337.27 1783.25,341.57 1785.4,345.01 1789.7,346.73 1791.42,350.16 1795.72,351.88 1799.15,356.18 1798.29,358.76 1795.72,360.48 1796.18,363.44 1800.48,366.02 1806.49,368.59 1810.79,372.03 1812.51,376.33 1816.81,378.91 1821.1,383.21 1823.68,386.64 1827.12,390.94 1831.42,396.1 1834.86,399.54 1837.43,402.97 1838.29,407.27 1840.01,411.57 1842.59,415.01 1842.74,420 1840.16,423.44 1843.17,426.02 1841.02,427.74 1837.58,428.59" fill="none" stroke="#97b6e1" stroke-width="15" stroke-linejoin="round" stroke-linecap="round"/>
<polyline points="1775.95,334.69 1780.24,336.41 1783.25,337.27 1783.25,341.57 1785.4,345.01 1789.7,346.73 1791.42,350.16 1795.72,351.88 1799.15,356.18 1798.29,358.76 1795.72,360.48 1796.18,363.44 1800.48,366.02 1806.49,368.59 1810.79,372.03 1812.51,376.33 1816.81,378.91 1821.1,383.21 1823.68,386.64 1827.12,390.94 1831.42,396.1 1834.86,399.54 1837.43,402.97 1838.29,407.27 1840.01,411.57 1842.59,415.01 1842.74,420 1840.16,423.44 1843.17,426.02 1841.02,427.74 1837.58,428.59" fill="none" stroke="#b0c4de" stroke-width="7.5" stroke-linejoin="round" stroke-linecap="round"/>
<polygon points="1806.49,379.77 1812.51,382.35 1816.81,388.36 1819.39,394.38 1816.81,400.4 1815.09,399.54 1815.95,392.66 1811.65,387.5 1806.49,384.92" fill="#97b6e1"/>
<polyline points="1776.81,365.63 1774.66,362.2 1773.37,357.9 1770.79,353.6 1768.21,351.02 1765.63,347.58 1763.06,343.29 1760.48,339.85 1757.9,336.41" fill="none" stroke="#97b6e1" stroke-width="6" stroke-linejoin="round" stroke-linecap="round"/>
<polyline points="1794.46,396.1 1796.18,393.09 1794.03,390.08 1791.88,387.5 1791.45,384.07 1790.16,381.06 1786.73,383.21 1784.15,382.35 1781.57,378.91 1783.29,376.76 1780.71,373.75 1778.99,369.45" fill="none" stroke="#97b6e1" stroke-width="6.5" stroke-linejoin="round" stroke-linecap="round"/>
<polyline points="1837.58,428.59 1838.87,432.89 1841.88,437.19 1845.32,441.49 1849.62,443.64 1853.91,444.92 1858.21,447.5 1860.79,450.94 1862.51,453.52 1867.67,455.24 1872.82,456.96 1879.7,457.82 1883.14,461.25 1887.43,463.83 1890.87,466.41 1896.03,468.13 1901.19,469.85 1904.62,472 1910.64,473.29 1915.8,474.15 1918.38,476.73 1923.53,478.44 1926.97,481.02 1931.27,481.45 1935.74,482.05" fill="none" stroke="#97b6e1" stroke-width="4.6" stroke-linejoin="round" stroke-linecap="round"/>
<polygon points="1763.06,336.41 1767.35,341.57 1771.65,346.73 1775.95,351.88 1781.1,358.76 1784.54,363.91 1787.98,369.93 1794,369.93 1788.84,363.06 1784.54,355.32 1780.24,348.44 1775.95,343.29 1769.93,338.13 1764.77,335.55" fill="#6495ed"/>
<rect x="1636.5" y="303.1" width="1.6" height="1.4" fill="#97b6e1"/>
<rect x="1649.6" y="358.3" width="1.6" height="1.4" fill="#97b6e1"/>
<rect x="1652.5" y="362.1" width="1.6" height="1.4" fill="#97b6e1"/>
<rect x="1667.8" y="303.3" width="1.6" height="1.4" fill="#97b6e1"/>
<rect x="1679.7" y="368.5" width="1.6" height="1.4" fill="#97b6e1"/>
<rect x="1693.5" y="354.3" width="1.6" height="1.4" fill="#97b6e1"/>
<rect x="1720.7" y="373.2" width="1.6" height="1.4" fill="#b0c4de"/>
<rect x="1723.5" y="372.3" width="1.6" height="1.4" fill="#b0c4de"/>
<rect x="1732.2" y="357.3" width="1.6" height="1.4" fill="#97b6e1"/>
<rect x="1707.8" y="377.3" width="1.6" height="1.4" fill="#97b6e1"/>
<rect x="1619.7" y="395.7" width="1.6" height="1.4" fill="#97b6e1"/>
<rect x="1630.2" y="403.1" width="1.6" height="1.4" fill="#97b6e1"/>
<rect x="1703.8" y="469.3" width="1.6" height="1.4" fill="#97b6e1"/>
<rect x="1709" y="377.8" width="1.6" height="1.4" fill="#97b6e1"/>
<rect x="1630.7" y="460.3" width="1.6" height="1.4" fill="#97b6e1"/>
<rect x="1680.7" y="451" width="1.6" height="1.4" fill="#97b6e1"/>
<rect x="1734.2" y="472.3" width="1.6" height="1.4" fill="#97b6e1"/>
<rect x="1770.7" y="477.8" width="1.6" height="1.4" fill="#97b6e1"/>
<rect x="1795.7" y="476.8" width="1.6" height="1.4" fill="#97b6e1"/>
<rect x="1802.7" y="478.8" width="1.6" height="1.4" fill="#97b6e1"/>
<rect x="1668.7" y="504.3" width="1.6" height="1.4" fill="#97b6e1"/>
<rect x="1676.7" y="509.3" width="1.6" height="1.4" fill="#97b6e1"/>
<rect x="1680.2" y="524.3" width="1.6" height="1.4" fill="#97b6e1"/>
<rect x="1872.7" y="509.8" width="1.6" height="1.4" fill="#97b6e1"/>
<rect x="1784.2" y="544.8" width="1.6" height="1.4" fill="#97b6e1"/>
<rect x="1789.2" y="545.3" width="1.6" height="1.4" fill="#97b6e1"/>
<rect x="1801.2" y="548.8" width="1.6" height="1.4" fill="#97b6e1"/>
<rect x="1764.2" y="449.8" width="1.6" height="1.4" fill="#b0c4de"/>
<rect x="1745.2" y="472.8" width="1.6" height="1.4" fill="#97b6e1"/>
<rect x="1705.7" y="419.8" width="1.6" height="1.4" fill="#97b6e1"/>
<rect x="1932.5" y="384" width="3" height="32" fill="#97b6e1"/>
<polygon points="1698.84,261.17 1703.14,264.61 1706.57,268.48 1707.43,272.35 1709.15,275.78 1710.87,280.08 1713.45,285.24 1714.07,290 1717.5,294.3 1719.65,299.45 1721.8,303.75 1723.95,308.05 1723.02,310 1725.7,313.75 1731.05,316.42 1735.33,319.64 1739.61,323.92 1742.83,328.2 1743.9,333.02 1742.29,336.23 1744.97,338.91 1742.83,340.19 1740.69,338.37 1735.33,338.91 1731.58,336.23 1729.98,333.02 1730.51,336.77 1732.12,338.05 1736.4,341.05 1739.61,344.26 1743.9,346.94 1748.18,350.15 1751.39,349.08 1753,347.69 1754.07,351.22 1757.82,353.9 1761.56,357.11 1764.78,360.32 1765.85,365.67 1765.31,371.03 1763.7,374.24 1766.38,377.45 1770.66,379.59 1774.95,382.81 1779.23,386.02 1783.51,389.23 1786.72,392.44 1788.33,396.72 1789.94,399.4 1794.22,396.72 1796.36,392.98 1794.22,389.76 1792.08,386.55 1791.01,382.81 1789.4,380.66 1787.79,382.81 1785.65,383.88 1782.98,381.2 1781.91,377.99 1784.58,378.52 1782.44,374.24 1780.3,369.96 1778.69,365.67 1776.55,361.39 1774.95,358.18 1772.81,353.9 1769.59,350.69 1766.38,346.4 1763.17,342.12 1759.96,338.37 1757.82,334.63 1757.28,330.34 1755.67,327.13 1752.46,323.92 1749.25,320.71 1746.04,316.42 1741.76,313.21 1737.47,310 1736.84,305.47 1735.55,299.45 1733.83,294.3 1734.26,290 1734.08,285.24 1739.24,287.82 1744.39,288.25 1747.83,291.25 1750.16,292.58 1754.03,293.87 1754.46,297.74 1756.18,302.03 1757.9,306.33 1758.35,310 1761.03,314.28 1764.24,319.64 1765.31,322.85 1769.59,326.06 1773.88,330.34 1777.09,334.63 1782.44,336.23 1782.98,341.05 1785.65,344.26 1789.94,346.4 1792.08,349.61 1796.36,351.76 1799.57,356.04 1797.97,358.72 1795.29,360.32 1795.82,363.53 1800.64,365.67 1804.93,367.82 1809.21,371.03 1812.42,374.24 1816.7,378.52 1820.02,382.81 1821.1,383.21 1823.68,386.64 1827.12,390.94 1831.42,396.1 1834.86,399.54 1837.43,402.97 1838.29,407.27 1840.01,411.57 1842.59,415.01 1842.74,420 1840.16,423.44 1843.17,426.02 1841.02,427.74 1837.58,428.59 1838.87,432.89 1841.88,437.19 1845.32,441.49 1849.62,443.64 1853.91,444.92 1858.21,447.5 1860.79,450.94 1862.51,453.52 1867.67,455.24 1872.82,456.96 1879.7,457.82 1883.14,461.25 1887.43,463.83 1890.87,466.41 1896.03,468.13 1901.19,469.85 1904.62,472 1910.64,473.29 1915.8,474.15 1918.38,476.73 1923.53,478.44 1926.97,481.02 1931.27,481.45 1935.74,482.05 1935.84,428.61 1931.98,421.54 1929.41,415.12 1926.84,408.69 1925.55,402.26 1926.84,397.12 1926.84,389.41 1926.2,380.41 1926.84,371.41 1929.41,366.27 1933.91,361.13 1931.34,357.28 1930.05,349.56 1926.84,343.78 1929.41,336.71 1933.26,332.85 1935.84,332.21 1935.4,260.2 1698.84,260.2" fill="#d2b48c"/>
<polyline points="1734.08,284.38 1731.5,281.8 1734.08,276.64 1737.52,274.07 1741.81,273.21 1750.41,271.49 1757.28,268.48 1760.72,265.9 1760,265.42 1765.78,267.82 1771.56,269.75 1777.34,268.79 1780.23,269.75 1785.05,267.82 1788.9,269.27 1792.76,272.64 1796.61,270.71 1799.98,273.61 1802.39,275.05 1805.28,270.71 1809.14,267.34 1810.1,263.49" fill="none" stroke="#97b6e1" stroke-width="1.7" stroke-linejoin="round" />
<polyline points="1721.19,264.18 1724.62,267.62" fill="none" stroke="#a9b4c4" stroke-width="1.8" stroke-linejoin="round" />
<polyline points="1822.63,261.08 1820.22,266.38 1819.74,272.16 1823.11,275.53 1825.04,279.87 1826.48,283.53" fill="none" stroke="#97b6e1" stroke-width="1.7" stroke-linejoin="round" />
<polyline points="1883.33,263.49 1887.18,267.34 1892,268.79 1895.85,271 1901.63,269.27 1902.11,264.93 1907.41,262.53 1910.3,263.49 1916.08,269.27 1921.87,273.61 1927.65,278.9 1931.5,284.69 1934.87,289.5" fill="none" stroke="#97b6e1" stroke-width="2.2" stroke-linejoin="round" />
<polyline points="1840.87,412 1848.61,411.57 1852.05,416.73 1857.2,420.16 1862.36,421.45 1865.8,427.04 1870.09,429.62 1864.94,430.65" fill="none" stroke="#97b6e1" stroke-width="1.6" stroke-linejoin="round" />
<polyline points="1897.92,408.05 1904.99,413.19 1911.41,412.54 1917.84,409.33 1926.84,406.76" fill="none" stroke="#97b6e1" stroke-width="1.8" stroke-linejoin="round" />
<polyline points="1827.44,286.13 1831.3,290.47 1837.08,295.28 1843.82,300.1 1847.2,303.96 1849.12,309.74 1851.53,314.55 1856.35,317.93 1862.13,321.3 1865.98,322.26 1868.87,318.41 1871.76,313.11 1875.62,311.18 1883.33,312.14 1889.11,316.48 1893.92,321.3 1896.81,327.08 1898.56,330.28 1904.99,339.28 1907.56,345.71 1911.41,354.06 1917.84,357.92 1926.84,360.49 1933.91,361.13" fill="none" stroke="#97b6e1" stroke-width="1.7" stroke-linejoin="round" />
<polyline points="1799.98,260.12 1799.98,292.39" fill="none" stroke="#000" stroke-width="1.7" stroke-linejoin="round" />
<polyline points="1826.48,283.53 1867.43,283.53 1867.43,260.12" fill="none" stroke="#000" stroke-width="1.7" stroke-linejoin="round" />
<polyline points="1738.38,261.17 1736.23,264.18 1737.52,266.76 1738.55,270.2 1737.34,272.52 1736.66,274.92" fill="none" stroke="#000" stroke-width="1.7" stroke-linejoin="round" />
<polyline points="1709.15,276.21 1735.8,274.5" fill="none" stroke="#000" stroke-width="1.8" stroke-linejoin="round" stroke-dasharray="6.2 2.7"/>
<polyline points="1735.8,277.5 1760,286.13 1776.38,292.39 1809.62,292.39 1809.62,286.61 1827.44,286.13 1827.44,286.13 1831.3,290.47 1837.08,295.28 1843.82,300.1 1847.2,303.96 1849.12,309.74 1851.53,314.55 1856.35,317.93 1862.13,321.3 1865.98,322.26 1868.87,318.41 1871.76,313.11 1875.62,311.18 1883.33,312.14 1889.11,316.48 1893.92,321.3 1896.81,327.08 1898.56,330.28 1904.99,339.28 1907.56,345.71 1911.41,354.06 1917.84,357.92 1926.84,360.49 1933.91,361.13" fill="none" stroke="#000" stroke-width="1.8" stroke-linejoin="round" stroke-dasharray="6.2 2.7"/>
<g fill="none" stroke="#000" stroke-width="2.5" stroke-linejoin="round" stroke-linecap="round">
<polyline points="1698.84,261.17 1703.14,264.61 1706.57,268.48 1707.43,272.35 1709.15,275.78 1710.87,280.08 1713.45,285.24 1714.07,290 1717.5,294.3 1719.65,299.45 1721.8,303.75 1723.95,308.05 1723.02,310 1725.7,313.75 1731.05,316.42 1735.33,319.64 1739.61,323.92 1742.83,328.2 1743.9,333.02 1742.29,336.23 1744.97,338.91 1742.83,340.19 1740.69,338.37 1735.33,338.91 1731.58,336.23 1729.98,333.02 1730.51,336.77 1732.12,338.05 1736.4,341.05 1739.61,344.26 1743.9,346.94 1748.18,350.15 1751.39,349.08 1753,347.69 1754.07,351.22 1757.82,353.9 1761.56,357.11 1764.78,360.32 1765.85,365.67 1765.31,371.03 1763.7,374.24 1766.38,377.45 1770.66,379.59 1774.95,382.81 1779.23,386.02 1783.51,389.23 1786.72,392.44 1788.33,396.72 1789.94,399.4 1794.22,396.72 1796.36,392.98 1794.22,389.76 1792.08,386.55 1791.01,382.81 1789.4,380.66 1787.79,382.81 1785.65,383.88 1782.98,381.2 1781.91,377.99 1784.58,378.52 1782.44,374.24 1780.3,369.96 1778.69,365.67 1776.55,361.39 1774.95,358.18 1772.81,353.9 1769.59,350.69 1766.38,346.4 1763.17,342.12 1759.96,338.37 1757.82,334.63 1757.28,330.34 1755.67,327.13 1752.46,323.92 1749.25,320.71 1746.04,316.42 1741.76,313.21 1737.47,310 1736.84,305.47 1735.55,299.45 1733.83,294.3 1734.26,290 1734.08,285.24 1739.24,287.82 1744.39,288.25 1747.83,291.25 1750.16,292.58 1754.03,293.87 1754.46,297.74 1756.18,302.03 1757.9,306.33 1758.35,310 1761.03,314.28 1764.24,319.64 1765.31,322.85 1769.59,326.06 1773.88,330.34 1777.09,334.63 1782.44,336.23 1782.98,341.05 1785.65,344.26 1789.94,346.4 1792.08,349.61 1796.36,351.76 1799.57,356.04 1797.97,358.72 1795.29,360.32 1795.82,363.53 1800.64,365.67 1804.93,367.82 1809.21,371.03 1812.42,374.24 1816.7,378.52 1820.02,382.81 1821.1,383.21 1823.68,386.64 1827.12,390.94 1831.42,396.1 1834.86,399.54 1837.43,402.97 1838.29,407.27 1840.01,411.57 1842.59,415.01 1842.74,420 1840.16,423.44 1843.17,426.02 1841.02,427.74 1837.58,428.59 1838.87,432.89 1841.88,437.19 1845.32,441.49 1849.62,443.64 1853.91,444.92 1858.21,447.5 1860.79,450.94 1862.51,453.52 1867.67,455.24 1872.82,456.96 1879.7,457.82 1883.14,461.25 1887.43,463.83 1890.87,466.41 1896.03,468.13 1901.19,469.85 1904.62,472 1910.64,473.29 1915.8,474.15 1918.38,476.73 1923.53,478.44 1926.97,481.02 1931.27,481.45 1935.74,482.05"/>
<polyline points="1935.84,428.61 1931.98,421.54 1929.41,415.12 1926.84,408.69 1925.55,402.26 1926.84,397.12 1926.84,389.41 1926.2,380.41 1926.84,371.41 1929.41,366.27 1933.91,361.13 1931.34,357.28 1930.05,349.56 1926.84,343.78 1929.41,336.71 1933.26,332.85 1935.84,332.21"/>
</g>
<ellipse cx="1682.08" cy="267.02" rx="1.8" ry="1.2" fill="#000" transform="rotate(30 1682.08 267.02)"/>
<ellipse cx="1694.11" cy="264.78" rx="2.6" ry="1.5" fill="#000" transform="rotate(40 1694.11 264.78)"/>
<ellipse cx="1693.68" cy="271.49" rx="2.6" ry="1.4" fill="#000" transform="rotate(55 1693.68 271.49)"/>
<ellipse cx="1687.24" cy="263.92" rx="1" ry="0.9" fill="#5b6f92" transform="rotate(0 1687.24 263.92)"/>
<ellipse cx="1695.83" cy="322.2" rx="1.6" ry="3" fill="#000" transform="rotate(-5 1695.83 322.2)"/>
<ellipse cx="1729.97" cy="332.97" rx="1.7" ry="3" fill="#000" transform="rotate(-10 1729.97 332.97)"/>
<circle cx="1726.53" cy="331.68" r="1.1" fill="none" stroke="#000" stroke-width="0.7"/>
<ellipse cx="1751.45" cy="319.05" rx="2.6" ry="6.2" fill="#000" transform="rotate(-28 1751.45 319.05)"/>
<ellipse cx="1754.89" cy="326.1" rx="1.4" ry="2.2" fill="#000" transform="rotate(-35 1754.89 326.1)"/>
<ellipse cx="1762.63" cy="322.66" rx="1.6" ry="2.8" fill="#d2b48c" stroke="#000" stroke-width="1.4"/>
<ellipse cx="1779.85" cy="364.73" rx="1" ry="1" fill="#000" transform="rotate(0 1779.85 364.73)"/>
<ellipse cx="1781.57" cy="368.59" rx="0.9" ry="0.9" fill="#000" transform="rotate(0 1781.57 368.59)"/>
<ellipse cx="1785.01" cy="378.48" rx="1.3" ry="1.3" fill="#000" transform="rotate(0 1785.01 378.48)"/>
<ellipse cx="1779.82" cy="364.77" rx="1" ry="1" fill="#000" transform="rotate(0 1779.82 364.77)"/>
<ellipse cx="1769.5" cy="351.45" rx="1.6" ry="2.6" fill="#000" transform="rotate(-30 1769.5 351.45)"/>
<ellipse cx="1775.95" cy="361.34" rx="1.6" ry="2.4" fill="#000" transform="rotate(-25 1775.95 361.34)"/>
<ellipse cx="1762.63" cy="330.4" rx="0.9" ry="0.9" fill="#7f8aa0" transform="rotate(0 1762.63 330.4)"/>
<ellipse cx="1767.78" cy="342.26" rx="0.9" ry="0.9" fill="#7f8aa0" transform="rotate(0 1767.78 342.26)"/>
<ellipse cx="1773.2" cy="335.55" rx="0.9" ry="0.9" fill="#7f8aa0" transform="rotate(0 1773.2 335.55)"/>
<path d="M1826.43 412.43L1831.85 418.27" stroke="#000" stroke-width="2.7" stroke-linecap="round"/>
<ellipse cx="1835.03" cy="410.88" rx="0.9" ry="0.9" fill="#4a556b" transform="rotate(0 1835.03 410.88)"/>
<ellipse cx="1778.2" cy="447.7" rx="1.6" ry="1.5" fill="#000" transform="rotate(0 1778.2 447.7)"/>
<ellipse cx="1779.9" cy="441.8" rx="0.7" ry="0.7" fill="#000" transform="rotate(0 1779.9 441.8)"/>
<ellipse cx="1735.8" cy="452.8" rx="1" ry="0.9" fill="#000" transform="rotate(0 1735.8 452.8)"/>
<ellipse cx="1797.9" cy="546" rx="0.6" ry="0.6" fill="#6c7a6a" transform="rotate(0 1797.9 546)"/>
<path d="M1932.75 339.28 L1935.84 337.99 L1935.84 358.56 L1933.01 353.42 Z" fill="#97b6e1"/>
<ellipse cx="1933.52" cy="333.88" rx="1.5" ry="1.8" fill="#000" transform="rotate(0 1933.52 333.88)"/>
<ellipse cx="1930.44" cy="336.97" rx="1.5" ry="1.8" fill="#000" transform="rotate(0 1930.44 336.97)"/>
<ellipse cx="1927.74" cy="343.78" rx="1.9" ry="2.28" fill="#000" transform="rotate(0 1927.74 343.78)"/>
<ellipse cx="1930.05" cy="340.57" rx="1.3" ry="1.56" fill="#000" transform="rotate(0 1930.05 340.57)"/>
<ellipse cx="1930.69" cy="347.63" rx="1.4" ry="1.68" fill="#000" transform="rotate(0 1930.69 347.63)"/>
<ellipse cx="1931.47" cy="352.13" rx="1.5" ry="1.8" fill="#000" transform="rotate(0 1931.47 352.13)"/>
<ellipse cx="1932.24" cy="356.63" rx="1.5" ry="1.8" fill="#000" transform="rotate(0 1932.24 356.63)"/>
<path d="M1926.84 367.56 L1931.34 366.27 L1929.41 373.98 L1927.48 381.7 L1925.55 380.41 Z" fill="#3a4a63"/>
<path d="M1926.2 408.69 L1929.41 411.9 L1935.58 428.61 L1931.98 422.83 Z" fill="#000"/>
<rect x="1933.6" y="401.5" width="1.2" height="4" fill="#6495ed"/>
</g>
<path d="M1609.7 261.4H1698.84 M1609.7 260.8V572.1H1935.4V260.8" fill="none" stroke="#000" stroke-width="1.33"/>
<path d="M1609.7 572.1v9.3M1609.7 261.4v-9.3M1643.39 572.1v9.3M1643.39 261.4v-9.3M1677.09 572.1v9.3M1677.09 261.4v-9.3M1710.78 572.1v9.3M1710.78 261.4v-9.3M1744.47 572.1v9.3M1744.47 261.4v-9.3M1778.17 572.1v9.3M1778.17 261.4v-9.3M1811.86 572.1v9.3M1811.86 261.4v-9.3M1845.55 572.1v9.3M1845.55 261.4v-9.3M1879.24 572.1v9.3M1879.24 261.4v-9.3M1912.94 572.1v9.3M1912.94 261.4v-9.3M1609.7 562.87h-9.3M1935.4 562.87h9.3M1609.7 528.5h-9.3M1935.4 528.5h9.3M1609.7 493.74h-9.3M1935.4 493.74h9.3M1609.7 458.49h-9.3M1935.4 458.49h9.3M1609.7 422.64h-9.3M1935.4 422.64h9.3M1609.7 386.05h-9.3M1935.4 386.05h9.3M1609.7 348.6h-9.3M1935.4 348.6h9.3M1609.7 310.14h-9.3M1935.4 310.14h9.3M1609.7 270.5h-9.3M1935.4 270.5h9.3" stroke="#000" stroke-width="3.33" fill="none"/>
<path d="M1620.93 572.1v3.0M1620.93 261.4v-3.0M1632.16 572.1v3.0M1632.16 261.4v-3.0M1654.62 572.1v3.0M1654.62 261.4v-3.0M1665.86 572.1v3.0M1665.86 261.4v-3.0M1688.32 572.1v3.0M1688.32 261.4v-3.0M1699.55 572.1v3.0M1699.55 261.4v-3.0M1722.01 572.1v3.0M1722.01 261.4v-3.0M1733.24 572.1v3.0M1733.24 261.4v-3.0M1755.7 572.1v3.0M1755.7 261.4v-3.0M1766.93 572.1v3.0M1766.93 261.4v-3.0M1789.4 572.1v3.0M1789.4 261.4v-3.0M1800.63 572.1v3.0M1800.63 261.4v-3.0M1823.09 572.1v3.0M1823.09 261.4v-3.0M1834.32 572.1v3.0M1834.32 261.4v-3.0M1856.78 572.1v3.0M1856.78 261.4v-3.0M1868.01 572.1v3.0M1868.01 261.4v-3.0M1890.48 572.1v3.0M1890.48 261.4v-3.0M1901.71 572.1v3.0M1901.71 261.4v-3.0M1924.17 572.1v3.0M1924.17 261.4v-3.0M1935.4 572.1v3.0M1935.4 261.4v-3.0M1609.7 551.45h-3.2M1935.4 551.45h3.2M1609.7 540h-3.2M1935.4 540h3.2M1609.7 516.96h-3.2M1935.4 516.96h3.2M1609.7 505.38h-3.2M1935.4 505.38h3.2M1609.7 482.05h-3.2M1935.4 482.05h3.2M1609.7 470.3h-3.2M1935.4 470.3h3.2M1609.7 446.61h-3.2M1935.4 446.61h3.2M1609.7 434.66h-3.2M1935.4 434.66h3.2M1609.7 410.53h-3.2M1935.4 410.53h3.2M1609.7 398.34h-3.2M1935.4 398.34h3.2M1609.7 373.67h-3.2M1935.4 373.67h3.2M1609.7 361.19h-3.2M1935.4 361.19h3.2M1609.7 335.9h-3.2M1935.4 335.9h3.2M1609.7 323.09h-3.2M1935.4 323.09h3.2M1609.7 297.07h-3.2M1935.4 297.07h3.2M1609.7 283.86h-3.2M1935.4 283.86h3.2" stroke="#000" stroke-width="1.67" fill="none"/>
<g font-size="22.4" text-anchor="end">
<text x="1594.1" y="279.85">33°N</text>
<text x="1594.1" y="319.49">30°N</text>
<text x="1594.1" y="357.95">27°N</text>
<text x="1594.1" y="395.4">24°N</text>
<text x="1594.1" y="431.99">21°N</text>
<text x="1594.1" y="467.84">18°N</text>
<text x="1594.1" y="503.09">15°N</text>
<text x="1594.1" y="537.85">12°N</text>
<text x="1594.1" y="572.22">9°N</text>
</g>
<g font-size="22.65" text-anchor="middle">
<text transform="translate(1607.5 624) rotate(-45)" x="0" y="8.25">126°W</text>
<text transform="translate(1641.19 624) rotate(-45)" x="0" y="8.25">123°W</text>
<text transform="translate(1674.89 624) rotate(-45)" x="0" y="8.25">120°W</text>
<text transform="translate(1708.58 624) rotate(-45)" x="0" y="8.25">117°W</text>
<text transform="translate(1742.27 624) rotate(-45)" x="0" y="8.25">114°W</text>
<text transform="translate(1775.97 624) rotate(-45)" x="0" y="8.25">111°W</text>
<text transform="translate(1809.66 624) rotate(-45)" x="0" y="8.25">108°W</text>
<text transform="translate(1843.35 624) rotate(-45)" x="0" y="8.25">105°W</text>
<text transform="translate(1877.04 624) rotate(-45)" x="0" y="8.25">102°W</text>
<text transform="translate(1910.74 618.9) rotate(-45)" x="0" y="8.25">99°W</text>
</g>
</g>
<g id="legend">
<rect x="1690" y="664.9" width="165.2" height="144" rx="4" ry="4" fill="#fff" fill-opacity="0.8" stroke="#d6d6d6" stroke-width="1.67"/>
<path d="M1698 684.5H1745.9" stroke="#0000ff" stroke-width="2.6" fill="none"/><circle cx="1721.6" cy="684.5" r="5.95" fill="#0000ff"/>
<text x="1762.3" y="692.3" font-size="22.3">sp055</text>
<path d="M1698 718.83H1745.9" stroke="#ff0000" stroke-width="2.6" fill="none"/><circle cx="1721.6" cy="718.83" r="5.95" fill="#ff0000"/>
<text x="1762.3" y="726.63" font-size="22.3">RTOFS</text>
<path d="M1698 753.16H1745.9" stroke="#008000" stroke-width="2.6" fill="none"/><circle cx="1721.6" cy="753.16" r="5.95" fill="#008000"/>
<text x="1762.3" y="760.96" font-size="22.3">ESPC</text>
<path d="M1698 787.49H1745.9" stroke="#ff00ff" stroke-width="2.6" fill="none"/><circle cx="1721.6" cy="787.49" r="5.95" fill="#ff00ff"/>
<text x="1762.3" y="795.29" font-size="22.3">CMEMS</text>
</g>
</svg>
</body></html>
